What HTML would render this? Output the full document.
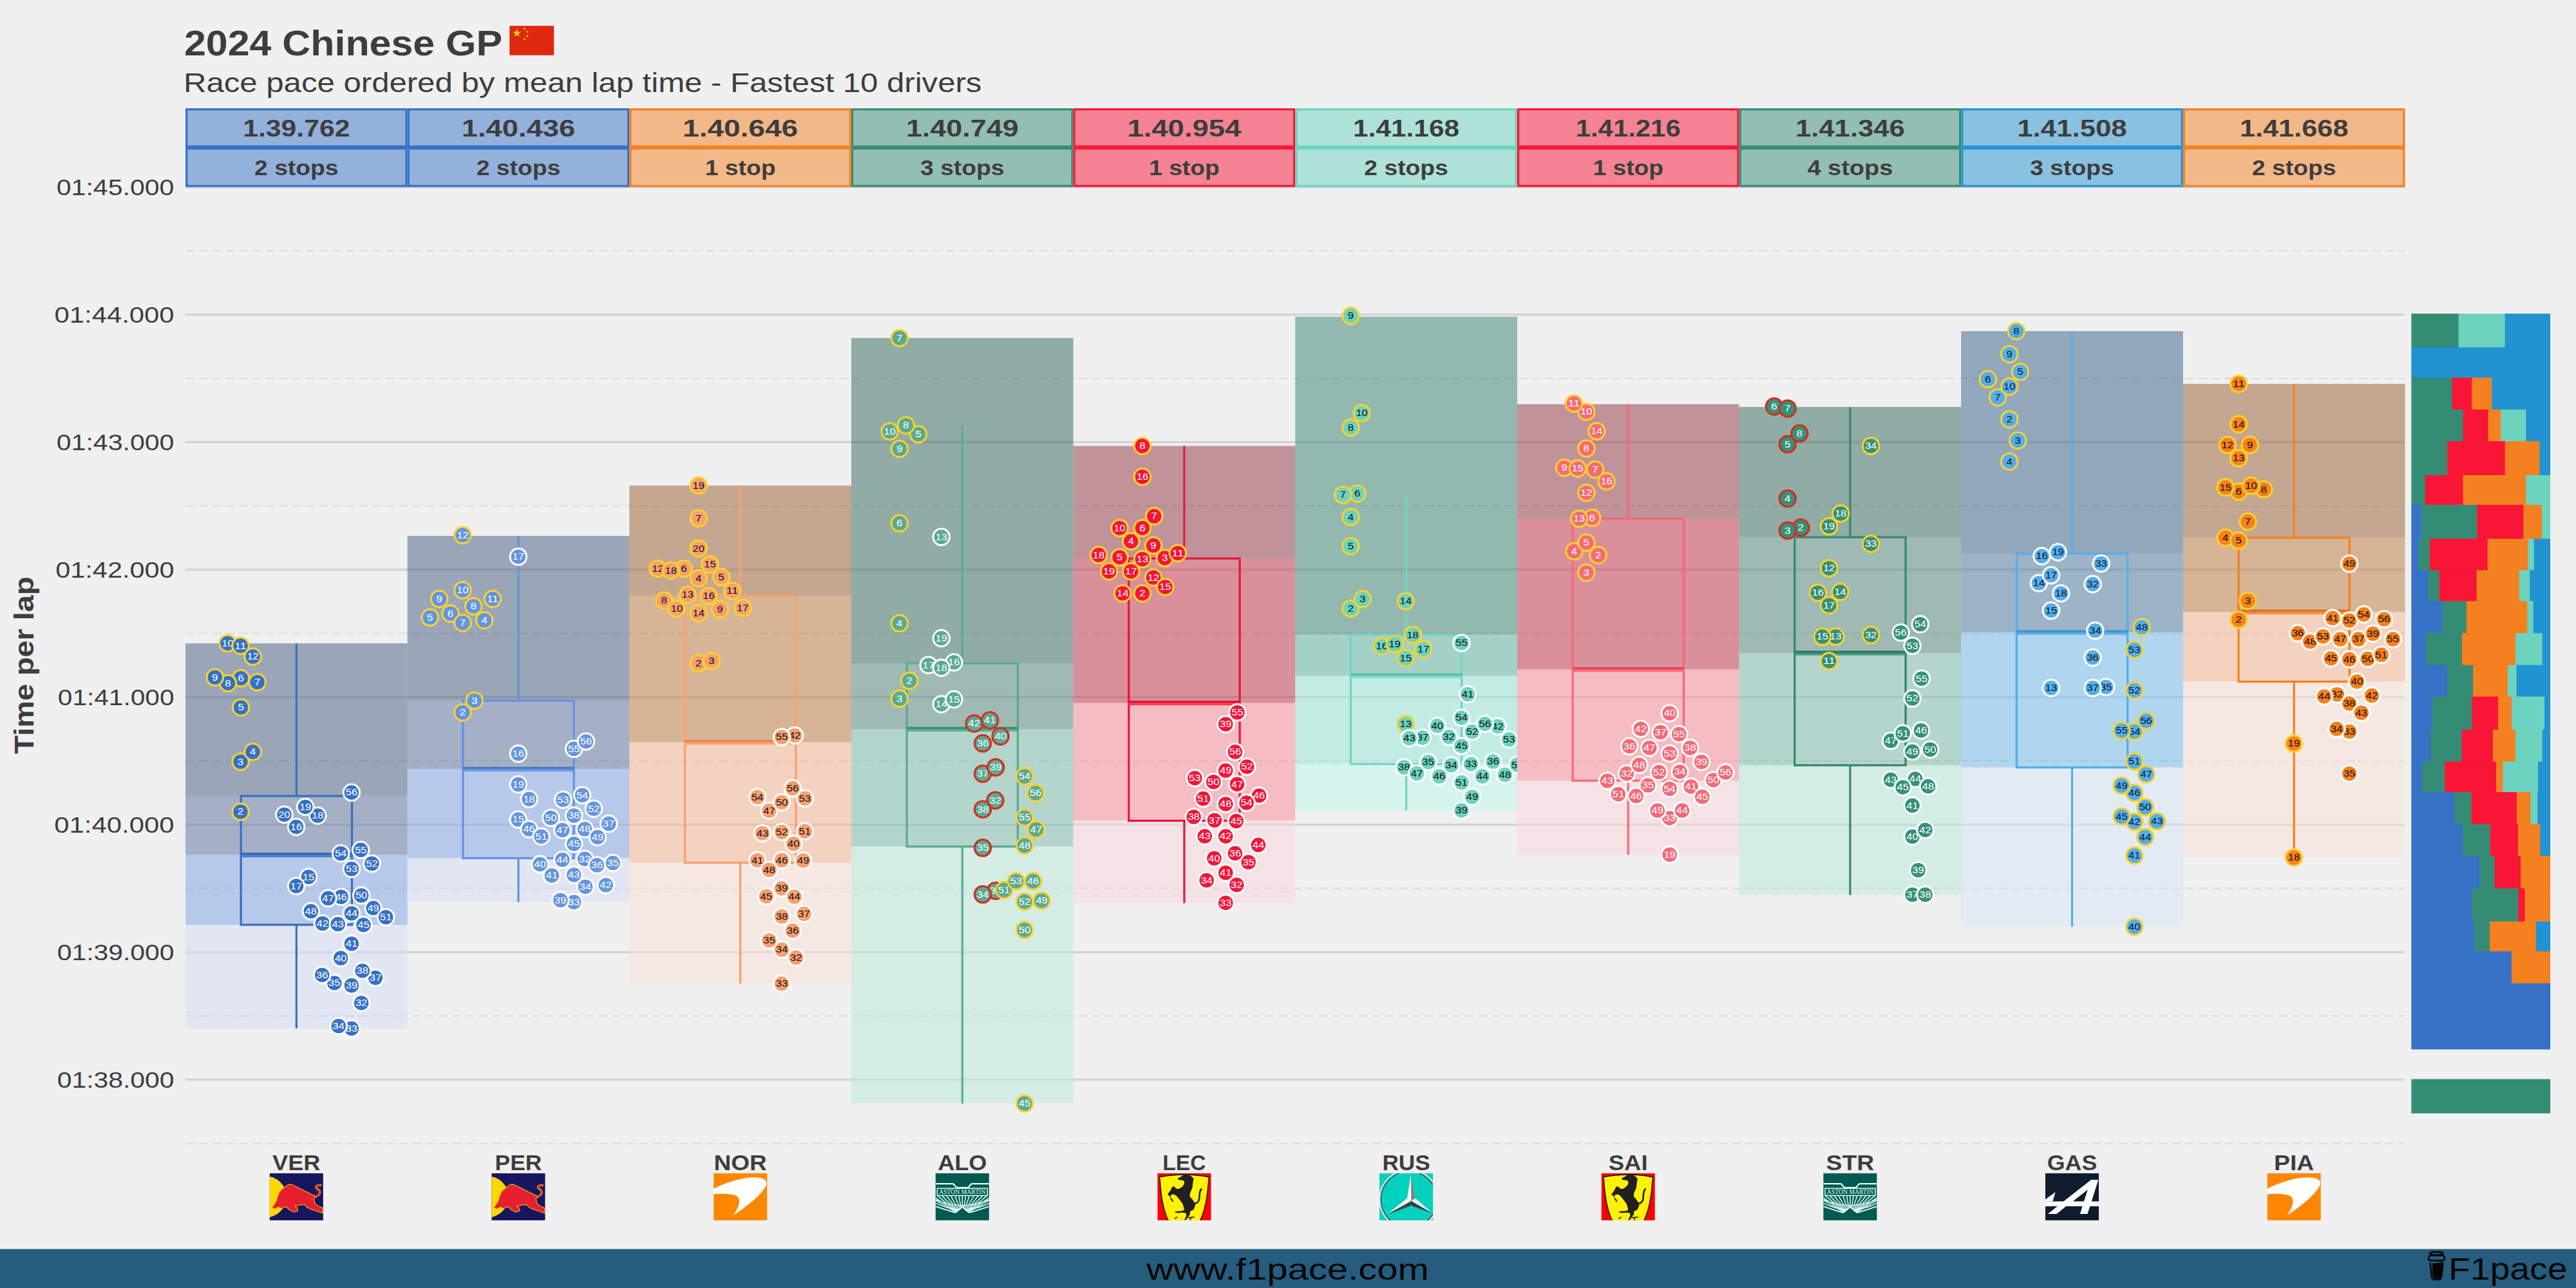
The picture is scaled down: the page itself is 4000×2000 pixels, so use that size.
<!DOCTYPE html><html><head><meta charset="utf-8"><style>html,body{margin:0;padding:0;background:#f0f0f0;}svg{display:block;font-family:"Liberation Sans", sans-serif;}</style></head><body>
<svg width="4000" height="2000" viewBox="0 0 4000 2000">
<rect width="4000" height="2000" fill="#f0f0f0"/>
<text x="286.0" y="86.0" font-size="56" font-weight="bold" text-anchor="start" fill="#3d3d3d" textLength="494" lengthAdjust="spacingAndGlyphs" >2024 Chinese GP</text>
<g transform="translate(791.2,40.1)"><rect width="69" height="45.7" fill="#de2910"/>
<polygon points="11.40,4.60 12.93,9.30 17.87,9.30 13.87,12.20 15.40,16.90 11.40,14.00 7.40,16.90 8.93,12.20 4.93,9.30 9.87,9.30" fill="#ffde00"/>
<polygon points="23.89,2.44 23.83,4.11 25.40,4.68 23.79,5.14 23.73,6.81 22.80,5.43 21.19,5.89 22.22,4.57 21.29,3.18 22.86,3.76" fill="#ffde00"/>
<polygon points="28.39,7.04 28.33,8.71 29.90,9.28 28.29,9.74 28.23,11.41 27.30,10.03 25.69,10.49 26.72,9.17 25.79,7.78 27.36,8.36" fill="#ffde00"/>
<polygon points="28.39,13.84 28.33,15.51 29.90,16.08 28.29,16.54 28.23,18.21 27.30,16.83 25.69,17.29 26.72,15.97 25.79,14.58 27.36,15.16" fill="#ffde00"/>
<polygon points="23.89,18.34 23.83,20.01 25.40,20.58 23.79,21.04 23.73,22.71 22.80,21.33 21.19,21.79 22.22,20.47 21.29,19.08 22.86,19.66" fill="#ffde00"/>
</g>
<text x="285.0" y="143.2" font-size="43" font-weight="normal" text-anchor="start" fill="#3d3d3d" textLength="1239.4" lengthAdjust="spacingAndGlyphs" >Race pace ordered by mean lap time - Fastest 10 drivers</text>
<line x1="288" x2="3734" y1="290.50" y2="290.50" stroke="#d3d3d3" stroke-width="3.5"/>
<line x1="288" x2="3734" y1="488.50" y2="488.50" stroke="#d3d3d3" stroke-width="3.5"/>
<line x1="288" x2="3734" y1="686.50" y2="686.50" stroke="#d3d3d3" stroke-width="3.5"/>
<line x1="288" x2="3734" y1="884.50" y2="884.50" stroke="#d3d3d3" stroke-width="3.5"/>
<line x1="288" x2="3734" y1="1082.50" y2="1082.50" stroke="#d3d3d3" stroke-width="3.5"/>
<line x1="288" x2="3734" y1="1280.50" y2="1280.50" stroke="#d3d3d3" stroke-width="3.5"/>
<line x1="288" x2="3734" y1="1478.50" y2="1478.50" stroke="#d3d3d3" stroke-width="3.5"/>
<line x1="288" x2="3734" y1="1676.50" y2="1676.50" stroke="#d3d3d3" stroke-width="3.5"/>
<line x1="288" x2="3734" y1="389.50" y2="389.50" stroke="#d9d9d9" stroke-width="1.8" stroke-dasharray="14.4 6.3"/>
<line x1="288" x2="3734" y1="587.50" y2="587.50" stroke="#d9d9d9" stroke-width="1.8" stroke-dasharray="14.4 6.3"/>
<line x1="288" x2="3734" y1="785.50" y2="785.50" stroke="#d9d9d9" stroke-width="1.8" stroke-dasharray="14.4 6.3"/>
<line x1="288" x2="3734" y1="983.50" y2="983.50" stroke="#d9d9d9" stroke-width="1.8" stroke-dasharray="14.4 6.3"/>
<line x1="288" x2="3734" y1="1181.50" y2="1181.50" stroke="#d9d9d9" stroke-width="1.8" stroke-dasharray="14.4 6.3"/>
<line x1="288" x2="3734" y1="1379.50" y2="1379.50" stroke="#d9d9d9" stroke-width="1.8" stroke-dasharray="14.4 6.3"/>
<line x1="288" x2="3734" y1="1577.50" y2="1577.50" stroke="#d9d9d9" stroke-width="1.8" stroke-dasharray="14.4 6.3"/>
<line x1="288" x2="3734" y1="1775.50" y2="1775.50" stroke="#d9d9d9" stroke-width="1.8" stroke-dasharray="14.4 6.3"/>
<rect x="288.00" y="999.00" width="344.65" height="237.00" fill="#445c80" fill-opacity="0.5"/>
<rect x="288.00" y="1236.00" width="344.65" height="91.60" fill="#5a709e" fill-opacity="0.5"/>
<rect x="288.00" y="1327.60" width="344.65" height="108.40" fill="#7ea2e6" fill-opacity="0.5"/>
<rect x="288.00" y="1436.00" width="344.65" height="161.00" fill="#d4dcf8" fill-opacity="0.5"/>
<rect x="632.65" y="832.10" width="344.65" height="255.80" fill="#445c80" fill-opacity="0.5"/>
<rect x="632.65" y="1087.90" width="344.65" height="106.30" fill="#5a709e" fill-opacity="0.5"/>
<rect x="632.65" y="1194.20" width="344.65" height="138.40" fill="#7ea2e6" fill-opacity="0.5"/>
<rect x="632.65" y="1332.60" width="344.65" height="68.10" fill="#d4dcf8" fill-opacity="0.5"/>
<rect x="977.30" y="753.90" width="344.65" height="170.90" fill="#985e30" fill-opacity="0.5"/>
<rect x="977.30" y="924.80" width="344.65" height="227.80" fill="#bc783c" fill-opacity="0.5"/>
<rect x="977.30" y="1152.60" width="344.65" height="187.00" fill="#f6b490" fill-opacity="0.5"/>
<rect x="977.30" y="1339.60" width="344.65" height="187.90" fill="#fae0d4" fill-opacity="0.5"/>
<rect x="1321.95" y="524.90" width="344.65" height="505.20" fill="#326858" fill-opacity="0.5"/>
<rect x="1321.95" y="1030.10" width="344.65" height="102.10" fill="#4e8474" fill-opacity="0.5"/>
<rect x="1321.95" y="1132.20" width="344.65" height="182.30" fill="#78baa6" fill-opacity="0.5"/>
<rect x="1321.95" y="1314.50" width="344.65" height="398.90" fill="#b6e8d8" fill-opacity="0.5"/>
<rect x="1666.60" y="692.50" width="344.65" height="174.70" fill="#903444" fill-opacity="0.5"/>
<rect x="1666.60" y="867.20" width="344.65" height="224.40" fill="#c23046" fill-opacity="0.5"/>
<rect x="1666.60" y="1091.60" width="344.65" height="182.80" fill="#fa8898" fill-opacity="0.5"/>
<rect x="1666.60" y="1274.40" width="344.65" height="128.00" fill="#fad4da" fill-opacity="0.5"/>
<rect x="2011.25" y="491.90" width="344.65" height="493.80" fill="#368070" fill-opacity="0.5"/>
<rect x="2011.25" y="985.70" width="344.65" height="63.50" fill="#56b2a0" fill-opacity="0.5"/>
<rect x="2011.25" y="1049.20" width="344.65" height="137.20" fill="#92e6d6" fill-opacity="0.5"/>
<rect x="2011.25" y="1186.40" width="344.65" height="72.00" fill="#bcf8ec" fill-opacity="0.5"/>
<rect x="2355.90" y="627.70" width="344.65" height="177.70" fill="#903444" fill-opacity="0.5"/>
<rect x="2355.90" y="805.40" width="344.65" height="234.30" fill="#c23046" fill-opacity="0.5"/>
<rect x="2355.90" y="1039.70" width="344.65" height="172.50" fill="#fa8898" fill-opacity="0.5"/>
<rect x="2355.90" y="1212.20" width="344.65" height="115.10" fill="#fad4da" fill-opacity="0.5"/>
<rect x="2700.55" y="631.90" width="344.65" height="202.30" fill="#326858" fill-opacity="0.5"/>
<rect x="2700.55" y="834.20" width="344.65" height="179.80" fill="#4e8474" fill-opacity="0.5"/>
<rect x="2700.55" y="1014.00" width="344.65" height="174.30" fill="#78baa6" fill-opacity="0.5"/>
<rect x="2700.55" y="1188.30" width="344.65" height="201.50" fill="#b6e8d8" fill-opacity="0.5"/>
<rect x="3045.20" y="514.20" width="344.65" height="345.60" fill="#366084" fill-opacity="0.5"/>
<rect x="3045.20" y="859.80" width="344.65" height="122.10" fill="#4a78a0" fill-opacity="0.5"/>
<rect x="3045.20" y="981.90" width="344.65" height="209.70" fill="#70baee" fill-opacity="0.5"/>
<rect x="3045.20" y="1191.60" width="344.65" height="247.40" fill="#d4e6f8" fill-opacity="0.5"/>
<rect x="3389.85" y="596.00" width="344.65" height="239.00" fill="#985e30" fill-opacity="0.5"/>
<rect x="3389.85" y="835.00" width="344.65" height="115.20" fill="#bc783c" fill-opacity="0.5"/>
<rect x="3389.85" y="950.20" width="344.65" height="108.20" fill="#f6b490" fill-opacity="0.5"/>
<rect x="3389.85" y="1058.40" width="344.65" height="273.20" fill="#fae0d4" fill-opacity="0.5"/>
<line x1="460.32" x2="460.32" y1="999.00" y2="1236.00" stroke="#3a70c0" stroke-width="3.2"/>
<line x1="460.32" x2="460.32" y1="1436.00" y2="1597.00" stroke="#3a70c0" stroke-width="3.2"/>
<rect x="374.16" y="1236.00" width="172.32" height="200.00" fill="none" stroke="#3a70c0" stroke-width="3.3"/>
<rect x="374.16" y="1324.10" width="172.32" height="3.5" fill="#3464ac"/>
<rect x="374.16" y="1327.60" width="172.32" height="3.6" fill="#467dd0"/>
<line x1="804.97" x2="804.97" y1="832.10" y2="1087.90" stroke="#6592e0" stroke-width="3.2"/>
<line x1="804.97" x2="804.97" y1="1332.60" y2="1400.70" stroke="#6592e0" stroke-width="3.2"/>
<rect x="718.81" y="1087.90" width="172.32" height="244.70" fill="none" stroke="#6592e0" stroke-width="3.3"/>
<rect x="718.81" y="1190.70" width="172.32" height="3.5" fill="#4f78bc"/>
<rect x="718.81" y="1194.20" width="172.32" height="3.6" fill="#6492e6"/>
<line x1="1149.62" x2="1149.62" y1="753.90" y2="924.80" stroke="#f9a06a" stroke-width="3.2"/>
<line x1="1149.62" x2="1149.62" y1="1339.60" y2="1527.50" stroke="#f9a06a" stroke-width="3.2"/>
<rect x="1063.46" y="924.80" width="172.33" height="414.80" fill="none" stroke="#f9a06a" stroke-width="3.3"/>
<rect x="1063.46" y="1149.10" width="172.33" height="3.5" fill="#e08449"/>
<rect x="1063.46" y="1152.60" width="172.33" height="3.6" fill="#ffa06a"/>
<line x1="1494.27" x2="1494.27" y1="661.00" y2="1030.10" stroke="#5aaa94" stroke-width="3.2"/>
<line x1="1494.27" x2="1494.27" y1="1314.50" y2="1713.40" stroke="#5aaa94" stroke-width="3.2"/>
<rect x="1408.11" y="1030.10" width="172.33" height="284.40" fill="none" stroke="#5aaa94" stroke-width="3.3"/>
<rect x="1408.11" y="1128.70" width="172.33" height="3.5" fill="#3f8a74"/>
<rect x="1408.11" y="1132.20" width="172.33" height="3.6" fill="#5aaa94"/>
<line x1="1838.92" x2="1838.92" y1="692.50" y2="867.20" stroke="#e8173a" stroke-width="3.2"/>
<line x1="1838.92" x2="1838.92" y1="1274.40" y2="1402.40" stroke="#e8173a" stroke-width="3.2"/>
<rect x="1752.76" y="867.20" width="172.33" height="407.20" fill="none" stroke="#e8173a" stroke-width="3.3"/>
<rect x="1752.76" y="1088.10" width="172.33" height="3.5" fill="#dc0f2e"/>
<rect x="1752.76" y="1091.60" width="172.33" height="3.6" fill="#ff3850"/>
<line x1="2183.57" x2="2183.57" y1="768.40" y2="985.70" stroke="#74d4c3" stroke-width="3.2"/>
<line x1="2183.57" x2="2183.57" y1="1186.40" y2="1258.40" stroke="#74d4c3" stroke-width="3.2"/>
<rect x="2097.41" y="985.70" width="172.33" height="200.70" fill="none" stroke="#74d4c3" stroke-width="3.3"/>
<rect x="2097.41" y="1045.70" width="172.33" height="3.5" fill="#52bea8"/>
<rect x="2097.41" y="1049.20" width="172.33" height="3.6" fill="#74dac6"/>
<line x1="2528.22" x2="2528.22" y1="627.70" y2="805.40" stroke="#f56a78" stroke-width="3.2"/>
<line x1="2528.22" x2="2528.22" y1="1212.20" y2="1327.30" stroke="#f56a78" stroke-width="3.2"/>
<rect x="2442.06" y="805.40" width="172.33" height="406.80" fill="none" stroke="#f56a78" stroke-width="3.3"/>
<rect x="2442.06" y="1036.20" width="172.33" height="3.5" fill="#e34055"/>
<rect x="2442.06" y="1039.70" width="172.33" height="3.6" fill="#ff6b7a"/>
<line x1="2872.87" x2="2872.87" y1="631.90" y2="834.20" stroke="#34896f" stroke-width="3.2"/>
<line x1="2872.87" x2="2872.87" y1="1188.30" y2="1389.80" stroke="#34896f" stroke-width="3.2"/>
<rect x="2786.71" y="834.20" width="172.32" height="354.10" fill="none" stroke="#34896f" stroke-width="3.3"/>
<rect x="2786.71" y="1010.50" width="172.32" height="3.5" fill="#2d7a64"/>
<rect x="2786.71" y="1014.00" width="172.32" height="3.6" fill="#45997f"/>
<line x1="3217.52" x2="3217.52" y1="514.20" y2="859.80" stroke="#55aeea" stroke-width="3.2"/>
<line x1="3217.52" x2="3217.52" y1="1191.60" y2="1439.00" stroke="#55aeea" stroke-width="3.2"/>
<rect x="3131.36" y="859.80" width="172.33" height="331.80" fill="none" stroke="#55aeea" stroke-width="3.3"/>
<rect x="3131.36" y="978.40" width="172.33" height="3.5" fill="#4393c8"/>
<rect x="3131.36" y="981.90" width="172.33" height="3.6" fill="#55aeea"/>
<line x1="3562.17" x2="3562.17" y1="596.00" y2="835.00" stroke="#f58020" stroke-width="3.2"/>
<line x1="3562.17" x2="3562.17" y1="1058.40" y2="1331.60" stroke="#f58020" stroke-width="3.2"/>
<rect x="3476.01" y="835.00" width="172.32" height="223.40" fill="none" stroke="#f58020" stroke-width="3.3"/>
<rect x="3476.01" y="946.70" width="172.32" height="3.5" fill="#d87020"/>
<rect x="3476.01" y="950.20" width="172.32" height="3.6" fill="#fb8a3a"/>
<defs>
<clipPath id="cp0"><rect x="288.00" y="0" width="344.65" height="2000"/></clipPath>
<clipPath id="cp1"><rect x="632.65" y="0" width="344.65" height="2000"/></clipPath>
<clipPath id="cp2"><rect x="977.30" y="0" width="344.65" height="2000"/></clipPath>
<clipPath id="cp3"><rect x="1321.95" y="0" width="344.65" height="2000"/></clipPath>
<clipPath id="cp4"><rect x="1666.60" y="0" width="344.65" height="2000"/></clipPath>
<clipPath id="cp5"><rect x="2011.25" y="0" width="344.65" height="2000"/></clipPath>
<clipPath id="cp6"><rect x="2355.90" y="0" width="344.65" height="2000"/></clipPath>
<clipPath id="cp7"><rect x="2700.55" y="0" width="344.65" height="2000"/></clipPath>
<clipPath id="cp8"><rect x="3045.20" y="0" width="344.65" height="2000"/></clipPath>
<clipPath id="cp9"><rect x="3389.85" y="0" width="344.65" height="2000"/></clipPath>
</defs>
<g clip-path="url(#cp0)">
<circle cx="373.5" cy="1260.5" r="12.75" fill="#3671c6" stroke="#fcd22a" stroke-width="3"/>
<text x="373.5" y="1265.3" font-size="13.8" text-anchor="middle" fill="#ffffff" textLength="9.4" lengthAdjust="spacingAndGlyphs">2</text>
<circle cx="373.5" cy="1182.7" r="12.75" fill="#3671c6" stroke="#fcd22a" stroke-width="3"/>
<text x="373.5" y="1187.5" font-size="13.8" text-anchor="middle" fill="#ffffff" textLength="9.4" lengthAdjust="spacingAndGlyphs">3</text>
<circle cx="392.6" cy="1167.5" r="12.75" fill="#3671c6" stroke="#fcd22a" stroke-width="3"/>
<text x="392.6" y="1172.3" font-size="13.8" text-anchor="middle" fill="#ffffff" textLength="9.4" lengthAdjust="spacingAndGlyphs">4</text>
<circle cx="374.1" cy="1098.5" r="12.75" fill="#3671c6" stroke="#fcd22a" stroke-width="3"/>
<text x="374.1" y="1103.3" font-size="13.8" text-anchor="middle" fill="#ffffff" textLength="9.4" lengthAdjust="spacingAndGlyphs">5</text>
<circle cx="374.1" cy="1053.3" r="12.75" fill="#3671c6" stroke="#fcd22a" stroke-width="3"/>
<text x="374.1" y="1058.1" font-size="13.8" text-anchor="middle" fill="#ffffff" textLength="9.4" lengthAdjust="spacingAndGlyphs">6</text>
<circle cx="399.6" cy="1059.3" r="12.75" fill="#3671c6" stroke="#fcd22a" stroke-width="3"/>
<text x="399.6" y="1064.1" font-size="13.8" text-anchor="middle" fill="#ffffff" textLength="9.4" lengthAdjust="spacingAndGlyphs">7</text>
<circle cx="354.0" cy="1060.9" r="12.75" fill="#3671c6" stroke="#fcd22a" stroke-width="3"/>
<text x="354.0" y="1065.7" font-size="13.8" text-anchor="middle" fill="#ffffff" textLength="9.4" lengthAdjust="spacingAndGlyphs">8</text>
<circle cx="333.8" cy="1051.7" r="12.75" fill="#3671c6" stroke="#fcd22a" stroke-width="3"/>
<text x="333.8" y="1056.5" font-size="13.8" text-anchor="middle" fill="#ffffff" textLength="9.4" lengthAdjust="spacingAndGlyphs">9</text>
<circle cx="353.4" cy="998.9" r="12.75" fill="#3671c6" stroke="#fcd22a" stroke-width="3"/>
<text x="353.4" y="1003.7" font-size="13.8" text-anchor="middle" fill="#ffffff" textLength="18.4" lengthAdjust="spacingAndGlyphs">10</text>
<circle cx="373.5" cy="1002.7" r="12.75" fill="#3671c6" stroke="#fcd22a" stroke-width="3"/>
<text x="373.5" y="1007.5" font-size="13.8" text-anchor="middle" fill="#ffffff" textLength="18.4" lengthAdjust="spacingAndGlyphs">11</text>
<circle cx="392.6" cy="1019.6" r="12.75" fill="#3671c6" stroke="#fcd22a" stroke-width="3"/>
<text x="392.6" y="1024.4" font-size="13.8" text-anchor="middle" fill="#ffffff" textLength="18.4" lengthAdjust="spacingAndGlyphs">12</text>
<circle cx="479.0" cy="1361.7" r="12.75" fill="#3671c6" stroke="#ffffff" stroke-width="3"/>
<text x="479.0" y="1366.5" font-size="13.8" text-anchor="middle" fill="#ffffff" textLength="18.4" lengthAdjust="spacingAndGlyphs">15</text>
<circle cx="460.0" cy="1283.9" r="12.75" fill="#3671c6" stroke="#ffffff" stroke-width="3"/>
<text x="460.0" y="1288.7" font-size="13.8" text-anchor="middle" fill="#ffffff" textLength="18.4" lengthAdjust="spacingAndGlyphs">16</text>
<circle cx="460.0" cy="1375.8" r="12.75" fill="#3671c6" stroke="#ffffff" stroke-width="3"/>
<text x="460.0" y="1380.6" font-size="13.8" text-anchor="middle" fill="#ffffff" textLength="18.4" lengthAdjust="spacingAndGlyphs">17</text>
<circle cx="493.2" cy="1266.5" r="12.75" fill="#3671c6" stroke="#ffffff" stroke-width="3"/>
<text x="493.2" y="1271.3" font-size="13.8" text-anchor="middle" fill="#ffffff" textLength="18.4" lengthAdjust="spacingAndGlyphs">18</text>
<circle cx="474.1" cy="1252.9" r="12.75" fill="#3671c6" stroke="#ffffff" stroke-width="3"/>
<text x="474.1" y="1257.7" font-size="13.8" text-anchor="middle" fill="#ffffff" textLength="18.4" lengthAdjust="spacingAndGlyphs">19</text>
<circle cx="441.5" cy="1264.9" r="12.75" fill="#3671c6" stroke="#ffffff" stroke-width="3"/>
<text x="441.5" y="1269.7" font-size="13.8" text-anchor="middle" fill="#ffffff" textLength="18.4" lengthAdjust="spacingAndGlyphs">20</text>
<circle cx="561.1" cy="1557.4" r="12.75" fill="#3671c6" stroke="#ffffff" stroke-width="3"/>
<text x="561.1" y="1562.2" font-size="13.8" text-anchor="middle" fill="#ffffff" textLength="18.4" lengthAdjust="spacingAndGlyphs">32</text>
<circle cx="545.9" cy="1597.1" r="12.75" fill="#3671c6" stroke="#ffffff" stroke-width="3"/>
<text x="545.9" y="1601.9" font-size="13.8" text-anchor="middle" fill="#ffffff" textLength="18.4" lengthAdjust="spacingAndGlyphs">33</text>
<circle cx="525.8" cy="1593.3" r="12.75" fill="#3671c6" stroke="#ffffff" stroke-width="3"/>
<text x="525.8" y="1598.1" font-size="13.8" text-anchor="middle" fill="#ffffff" textLength="18.4" lengthAdjust="spacingAndGlyphs">34</text>
<circle cx="519.3" cy="1526.4" r="12.75" fill="#3671c6" stroke="#ffffff" stroke-width="3"/>
<text x="519.3" y="1531.2" font-size="13.8" text-anchor="middle" fill="#ffffff" textLength="18.4" lengthAdjust="spacingAndGlyphs">35</text>
<circle cx="500.2" cy="1513.9" r="12.75" fill="#3671c6" stroke="#ffffff" stroke-width="3"/>
<text x="500.2" y="1518.7" font-size="13.8" text-anchor="middle" fill="#ffffff" textLength="18.4" lengthAdjust="spacingAndGlyphs">36</text>
<circle cx="582.9" cy="1518.3" r="12.75" fill="#3671c6" stroke="#ffffff" stroke-width="3"/>
<text x="582.9" y="1523.1" font-size="13.8" text-anchor="middle" fill="#ffffff" textLength="18.4" lengthAdjust="spacingAndGlyphs">37</text>
<circle cx="562.8" cy="1507.4" r="12.75" fill="#3671c6" stroke="#ffffff" stroke-width="3"/>
<text x="562.8" y="1512.2" font-size="13.8" text-anchor="middle" fill="#ffffff" textLength="18.4" lengthAdjust="spacingAndGlyphs">38</text>
<circle cx="545.9" cy="1530.2" r="12.75" fill="#3671c6" stroke="#ffffff" stroke-width="3"/>
<text x="545.9" y="1535.0" font-size="13.8" text-anchor="middle" fill="#ffffff" textLength="18.4" lengthAdjust="spacingAndGlyphs">39</text>
<circle cx="529.1" cy="1487.8" r="12.75" fill="#3671c6" stroke="#ffffff" stroke-width="3"/>
<text x="529.1" y="1492.6" font-size="13.8" text-anchor="middle" fill="#ffffff" textLength="18.4" lengthAdjust="spacingAndGlyphs">40</text>
<circle cx="545.9" cy="1465.5" r="12.75" fill="#3671c6" stroke="#ffffff" stroke-width="3"/>
<text x="545.9" y="1470.3" font-size="13.8" text-anchor="middle" fill="#ffffff" textLength="18.4" lengthAdjust="spacingAndGlyphs">41</text>
<circle cx="500.8" cy="1434.0" r="12.75" fill="#3671c6" stroke="#ffffff" stroke-width="3"/>
<text x="500.8" y="1438.8" font-size="13.8" text-anchor="middle" fill="#ffffff" textLength="18.4" lengthAdjust="spacingAndGlyphs">42</text>
<circle cx="524.7" cy="1435.1" r="12.75" fill="#3671c6" stroke="#ffffff" stroke-width="3"/>
<text x="524.7" y="1439.9" font-size="13.8" text-anchor="middle" fill="#ffffff" textLength="18.4" lengthAdjust="spacingAndGlyphs">43</text>
<circle cx="545.9" cy="1418.2" r="12.75" fill="#3671c6" stroke="#ffffff" stroke-width="3"/>
<text x="545.9" y="1423.0" font-size="13.8" text-anchor="middle" fill="#ffffff" textLength="18.4" lengthAdjust="spacingAndGlyphs">44</text>
<circle cx="564.4" cy="1436.2" r="12.75" fill="#3671c6" stroke="#ffffff" stroke-width="3"/>
<text x="564.4" y="1441.0" font-size="13.8" text-anchor="middle" fill="#ffffff" textLength="18.4" lengthAdjust="spacingAndGlyphs">45</text>
<circle cx="529.6" cy="1392.7" r="12.75" fill="#3671c6" stroke="#ffffff" stroke-width="3"/>
<text x="529.6" y="1397.5" font-size="13.8" text-anchor="middle" fill="#ffffff" textLength="18.4" lengthAdjust="spacingAndGlyphs">46</text>
<circle cx="509.5" cy="1394.8" r="12.75" fill="#3671c6" stroke="#ffffff" stroke-width="3"/>
<text x="509.5" y="1399.6" font-size="13.8" text-anchor="middle" fill="#ffffff" textLength="18.4" lengthAdjust="spacingAndGlyphs">47</text>
<circle cx="482.8" cy="1415.0" r="12.75" fill="#3671c6" stroke="#ffffff" stroke-width="3"/>
<text x="482.8" y="1419.8" font-size="13.8" text-anchor="middle" fill="#ffffff" textLength="18.4" lengthAdjust="spacingAndGlyphs">48</text>
<circle cx="579.6" cy="1410.1" r="12.75" fill="#3671c6" stroke="#ffffff" stroke-width="3"/>
<text x="579.6" y="1414.9" font-size="13.8" text-anchor="middle" fill="#ffffff" textLength="18.4" lengthAdjust="spacingAndGlyphs">49</text>
<circle cx="561.1" cy="1390.5" r="12.75" fill="#3671c6" stroke="#ffffff" stroke-width="3"/>
<text x="561.1" y="1395.3" font-size="13.8" text-anchor="middle" fill="#ffffff" textLength="18.4" lengthAdjust="spacingAndGlyphs">50</text>
<circle cx="599.2" cy="1424.2" r="12.75" fill="#3671c6" stroke="#ffffff" stroke-width="3"/>
<text x="599.2" y="1429.0" font-size="13.8" text-anchor="middle" fill="#ffffff" textLength="18.4" lengthAdjust="spacingAndGlyphs">51</text>
<circle cx="577.5" cy="1341.0" r="12.75" fill="#3671c6" stroke="#ffffff" stroke-width="3"/>
<text x="577.5" y="1345.8" font-size="13.8" text-anchor="middle" fill="#ffffff" textLength="18.4" lengthAdjust="spacingAndGlyphs">52</text>
<circle cx="545.9" cy="1349.2" r="12.75" fill="#3671c6" stroke="#ffffff" stroke-width="3"/>
<text x="545.9" y="1354.0" font-size="13.8" text-anchor="middle" fill="#ffffff" textLength="18.4" lengthAdjust="spacingAndGlyphs">53</text>
<circle cx="529.1" cy="1325.2" r="12.75" fill="#3671c6" stroke="#ffffff" stroke-width="3"/>
<text x="529.1" y="1330.0" font-size="13.8" text-anchor="middle" fill="#ffffff" textLength="18.4" lengthAdjust="spacingAndGlyphs">54</text>
<circle cx="560.1" cy="1319.8" r="12.75" fill="#3671c6" stroke="#ffffff" stroke-width="3"/>
<text x="560.1" y="1324.6" font-size="13.8" text-anchor="middle" fill="#ffffff" textLength="18.4" lengthAdjust="spacingAndGlyphs">55</text>
<circle cx="545.9" cy="1230.6" r="12.75" fill="#3671c6" stroke="#ffffff" stroke-width="3"/>
<text x="545.9" y="1235.4" font-size="13.8" text-anchor="middle" fill="#ffffff" textLength="18.4" lengthAdjust="spacingAndGlyphs">56</text>
</g>
<g clip-path="url(#cp1)">
<circle cx="718.4" cy="1106.2" r="12.75" fill="#6495e0" stroke="#fcd22a" stroke-width="3"/>
<text x="718.4" y="1111.0" font-size="13.8" text-anchor="middle" fill="#ffffff" textLength="9.4" lengthAdjust="spacingAndGlyphs">2</text>
<circle cx="736.7" cy="1087.9" r="12.75" fill="#6495e0" stroke="#fcd22a" stroke-width="3"/>
<text x="736.7" y="1092.7" font-size="13.8" text-anchor="middle" fill="#ffffff" textLength="9.4" lengthAdjust="spacingAndGlyphs">3</text>
<circle cx="752.1" cy="963.2" r="12.75" fill="#6495e0" stroke="#fcd22a" stroke-width="3"/>
<text x="752.1" y="968.0" font-size="13.8" text-anchor="middle" fill="#ffffff" textLength="9.4" lengthAdjust="spacingAndGlyphs">4</text>
<circle cx="667.7" cy="958.8" r="12.75" fill="#6495e0" stroke="#fcd22a" stroke-width="3"/>
<text x="667.7" y="963.6" font-size="13.8" text-anchor="middle" fill="#ffffff" textLength="9.4" lengthAdjust="spacingAndGlyphs">5</text>
<circle cx="699.5" cy="952.8" r="12.75" fill="#6495e0" stroke="#fcd22a" stroke-width="3"/>
<text x="699.5" y="957.6" font-size="13.8" text-anchor="middle" fill="#ffffff" textLength="9.4" lengthAdjust="spacingAndGlyphs">6</text>
<circle cx="718.4" cy="967.2" r="12.75" fill="#6495e0" stroke="#fcd22a" stroke-width="3"/>
<text x="718.4" y="972.0" font-size="13.8" text-anchor="middle" fill="#ffffff" textLength="9.4" lengthAdjust="spacingAndGlyphs">7</text>
<circle cx="735.2" cy="941.4" r="12.75" fill="#6495e0" stroke="#fcd22a" stroke-width="3"/>
<text x="735.2" y="946.2" font-size="13.8" text-anchor="middle" fill="#ffffff" textLength="9.4" lengthAdjust="spacingAndGlyphs">8</text>
<circle cx="682.1" cy="930.0" r="12.75" fill="#6495e0" stroke="#fcd22a" stroke-width="3"/>
<text x="682.1" y="934.8" font-size="13.8" text-anchor="middle" fill="#ffffff" textLength="9.4" lengthAdjust="spacingAndGlyphs">9</text>
<circle cx="718.4" cy="916.6" r="12.75" fill="#6495e0" stroke="#fcd22a" stroke-width="3"/>
<text x="718.4" y="921.4" font-size="13.8" text-anchor="middle" fill="#ffffff" textLength="18.4" lengthAdjust="spacingAndGlyphs">10</text>
<circle cx="765.0" cy="930.0" r="12.75" fill="#6495e0" stroke="#fcd22a" stroke-width="3"/>
<text x="765.0" y="934.8" font-size="13.8" text-anchor="middle" fill="#ffffff" textLength="18.4" lengthAdjust="spacingAndGlyphs">11</text>
<circle cx="718.4" cy="831.1" r="12.75" fill="#6495e0" stroke="#fcd22a" stroke-width="3"/>
<text x="718.4" y="835.9" font-size="13.8" text-anchor="middle" fill="#ffffff" textLength="18.4" lengthAdjust="spacingAndGlyphs">12</text>
<circle cx="804.8" cy="1272.6" r="12.75" fill="#6495e0" stroke="#ffffff" stroke-width="3"/>
<text x="804.8" y="1277.4" font-size="13.8" text-anchor="middle" fill="#ffffff" textLength="18.4" lengthAdjust="spacingAndGlyphs">15</text>
<circle cx="804.8" cy="1170.3" r="12.75" fill="#6495e0" stroke="#ffffff" stroke-width="3"/>
<text x="804.8" y="1175.1" font-size="13.8" text-anchor="middle" fill="#ffffff" textLength="18.4" lengthAdjust="spacingAndGlyphs">16</text>
<circle cx="804.8" cy="864.4" r="12.75" fill="#6495e0" stroke="#ffffff" stroke-width="3"/>
<text x="804.8" y="869.2" font-size="13.8" text-anchor="middle" fill="#ffffff" textLength="18.4" lengthAdjust="spacingAndGlyphs">17</text>
<circle cx="821.6" cy="1240.8" r="12.75" fill="#6495e0" stroke="#ffffff" stroke-width="3"/>
<text x="821.6" y="1245.6" font-size="13.8" text-anchor="middle" fill="#ffffff" textLength="18.4" lengthAdjust="spacingAndGlyphs">18</text>
<circle cx="804.8" cy="1218.0" r="12.75" fill="#6495e0" stroke="#ffffff" stroke-width="3"/>
<text x="804.8" y="1222.8" font-size="13.8" text-anchor="middle" fill="#ffffff" textLength="18.4" lengthAdjust="spacingAndGlyphs">19</text>
<circle cx="908.0" cy="1333.7" r="12.75" fill="#6495e0" stroke="#ffffff" stroke-width="3"/>
<text x="908.0" y="1338.5" font-size="13.8" text-anchor="middle" fill="#ffffff" textLength="18.4" lengthAdjust="spacingAndGlyphs">32</text>
<circle cx="891.2" cy="1400.7" r="12.75" fill="#6495e0" stroke="#ffffff" stroke-width="3"/>
<text x="891.2" y="1405.5" font-size="13.8" text-anchor="middle" fill="#ffffff" textLength="18.4" lengthAdjust="spacingAndGlyphs">33</text>
<circle cx="909.0" cy="1376.9" r="12.75" fill="#6495e0" stroke="#ffffff" stroke-width="3"/>
<text x="909.0" y="1381.7" font-size="13.8" text-anchor="middle" fill="#ffffff" textLength="18.4" lengthAdjust="spacingAndGlyphs">34</text>
<circle cx="951.7" cy="1340.1" r="12.75" fill="#6495e0" stroke="#ffffff" stroke-width="3"/>
<text x="951.7" y="1344.9" font-size="13.8" text-anchor="middle" fill="#ffffff" textLength="18.4" lengthAdjust="spacingAndGlyphs">35</text>
<circle cx="926.9" cy="1343.6" r="12.75" fill="#6495e0" stroke="#ffffff" stroke-width="3"/>
<text x="926.9" y="1348.4" font-size="13.8" text-anchor="middle" fill="#ffffff" textLength="18.4" lengthAdjust="spacingAndGlyphs">36</text>
<circle cx="945.3" cy="1279.0" r="12.75" fill="#6495e0" stroke="#ffffff" stroke-width="3"/>
<text x="945.3" y="1283.8" font-size="13.8" text-anchor="middle" fill="#ffffff" textLength="18.4" lengthAdjust="spacingAndGlyphs">37</text>
<circle cx="891.2" cy="1266.6" r="12.75" fill="#6495e0" stroke="#ffffff" stroke-width="3"/>
<text x="891.2" y="1271.4" font-size="13.8" text-anchor="middle" fill="#ffffff" textLength="18.4" lengthAdjust="spacingAndGlyphs">38</text>
<circle cx="870.3" cy="1397.7" r="12.75" fill="#6495e0" stroke="#ffffff" stroke-width="3"/>
<text x="870.3" y="1402.5" font-size="13.8" text-anchor="middle" fill="#ffffff" textLength="18.4" lengthAdjust="spacingAndGlyphs">39</text>
<circle cx="838.5" cy="1342.1" r="12.75" fill="#6495e0" stroke="#ffffff" stroke-width="3"/>
<text x="838.5" y="1346.9" font-size="13.8" text-anchor="middle" fill="#ffffff" textLength="18.4" lengthAdjust="spacingAndGlyphs">40</text>
<circle cx="856.9" cy="1359.5" r="12.75" fill="#6495e0" stroke="#ffffff" stroke-width="3"/>
<text x="856.9" y="1364.3" font-size="13.8" text-anchor="middle" fill="#ffffff" textLength="18.4" lengthAdjust="spacingAndGlyphs">41</text>
<circle cx="940.8" cy="1374.4" r="12.75" fill="#6495e0" stroke="#ffffff" stroke-width="3"/>
<text x="940.8" y="1379.2" font-size="13.8" text-anchor="middle" fill="#ffffff" textLength="18.4" lengthAdjust="spacingAndGlyphs">42</text>
<circle cx="891.2" cy="1358.5" r="12.75" fill="#6495e0" stroke="#ffffff" stroke-width="3"/>
<text x="891.2" y="1363.3" font-size="13.8" text-anchor="middle" fill="#ffffff" textLength="18.4" lengthAdjust="spacingAndGlyphs">43</text>
<circle cx="873.3" cy="1335.1" r="12.75" fill="#6495e0" stroke="#ffffff" stroke-width="3"/>
<text x="873.3" y="1339.9" font-size="13.8" text-anchor="middle" fill="#ffffff" textLength="18.4" lengthAdjust="spacingAndGlyphs">44</text>
<circle cx="891.2" cy="1310.3" r="12.75" fill="#6495e0" stroke="#ffffff" stroke-width="3"/>
<text x="891.2" y="1315.1" font-size="13.8" text-anchor="middle" fill="#ffffff" textLength="18.4" lengthAdjust="spacingAndGlyphs">45</text>
<circle cx="821.6" cy="1287.5" r="12.75" fill="#6495e0" stroke="#ffffff" stroke-width="3"/>
<text x="821.6" y="1292.3" font-size="13.8" text-anchor="middle" fill="#ffffff" textLength="18.4" lengthAdjust="spacingAndGlyphs">46</text>
<circle cx="873.3" cy="1289.0" r="12.75" fill="#6495e0" stroke="#ffffff" stroke-width="3"/>
<text x="873.3" y="1293.8" font-size="13.8" text-anchor="middle" fill="#ffffff" textLength="18.4" lengthAdjust="spacingAndGlyphs">47</text>
<circle cx="908.0" cy="1287.5" r="12.75" fill="#6495e0" stroke="#ffffff" stroke-width="3"/>
<text x="908.0" y="1292.3" font-size="13.8" text-anchor="middle" fill="#ffffff" textLength="18.4" lengthAdjust="spacingAndGlyphs">48</text>
<circle cx="927.9" cy="1299.9" r="12.75" fill="#6495e0" stroke="#ffffff" stroke-width="3"/>
<text x="927.9" y="1304.7" font-size="13.8" text-anchor="middle" fill="#ffffff" textLength="18.4" lengthAdjust="spacingAndGlyphs">49</text>
<circle cx="855.4" cy="1270.1" r="12.75" fill="#6495e0" stroke="#ffffff" stroke-width="3"/>
<text x="855.4" y="1274.9" font-size="13.8" text-anchor="middle" fill="#ffffff" textLength="18.4" lengthAdjust="spacingAndGlyphs">50</text>
<circle cx="840.5" cy="1298.9" r="12.75" fill="#6495e0" stroke="#ffffff" stroke-width="3"/>
<text x="840.5" y="1303.7" font-size="13.8" text-anchor="middle" fill="#ffffff" textLength="18.4" lengthAdjust="spacingAndGlyphs">51</text>
<circle cx="921.9" cy="1255.7" r="12.75" fill="#6495e0" stroke="#ffffff" stroke-width="3"/>
<text x="921.9" y="1260.5" font-size="13.8" text-anchor="middle" fill="#ffffff" textLength="18.4" lengthAdjust="spacingAndGlyphs">52</text>
<circle cx="874.3" cy="1241.8" r="12.75" fill="#6495e0" stroke="#ffffff" stroke-width="3"/>
<text x="874.3" y="1246.6" font-size="13.8" text-anchor="middle" fill="#ffffff" textLength="18.4" lengthAdjust="spacingAndGlyphs">53</text>
<circle cx="904.1" cy="1234.8" r="12.75" fill="#6495e0" stroke="#ffffff" stroke-width="3"/>
<text x="904.1" y="1239.6" font-size="13.8" text-anchor="middle" fill="#ffffff" textLength="18.4" lengthAdjust="spacingAndGlyphs">54</text>
<circle cx="891.2" cy="1162.8" r="12.75" fill="#6495e0" stroke="#ffffff" stroke-width="3"/>
<text x="891.2" y="1167.6" font-size="13.8" text-anchor="middle" fill="#ffffff" textLength="18.4" lengthAdjust="spacingAndGlyphs">55</text>
<circle cx="910.0" cy="1151.4" r="12.75" fill="#6495e0" stroke="#ffffff" stroke-width="3"/>
<text x="910.0" y="1156.2" font-size="13.8" text-anchor="middle" fill="#ffffff" textLength="18.4" lengthAdjust="spacingAndGlyphs">56</text>
</g>
<g clip-path="url(#cp2)">
<circle cx="1084.8" cy="1029.8" r="12.75" fill="#f8a070" stroke="#fcd22a" stroke-width="3"/>
<text x="1084.8" y="1034.6" font-size="13.8" text-anchor="middle" fill="#111111" textLength="9.4" lengthAdjust="spacingAndGlyphs">2</text>
<circle cx="1105.0" cy="1026.5" r="12.75" fill="#f8a070" stroke="#fcd22a" stroke-width="3"/>
<text x="1105.0" y="1031.3" font-size="13.8" text-anchor="middle" fill="#111111" textLength="9.4" lengthAdjust="spacingAndGlyphs">3</text>
<circle cx="1084.8" cy="898.0" r="12.75" fill="#f8a070" stroke="#fcd22a" stroke-width="3"/>
<text x="1084.8" y="902.8" font-size="13.8" text-anchor="middle" fill="#111111" textLength="9.4" lengthAdjust="spacingAndGlyphs">4</text>
<circle cx="1120.0" cy="896.1" r="12.75" fill="#f8a070" stroke="#fcd22a" stroke-width="3"/>
<text x="1120.0" y="900.9" font-size="13.8" text-anchor="middle" fill="#111111" textLength="9.4" lengthAdjust="spacingAndGlyphs">5</text>
<circle cx="1062.0" cy="883.0" r="12.75" fill="#f8a070" stroke="#fcd22a" stroke-width="3"/>
<text x="1062.0" y="887.8" font-size="13.8" text-anchor="middle" fill="#111111" textLength="9.4" lengthAdjust="spacingAndGlyphs">6</text>
<circle cx="1084.8" cy="804.8" r="12.75" fill="#f8a070" stroke="#fcd22a" stroke-width="3"/>
<text x="1084.8" y="809.6" font-size="13.8" text-anchor="middle" fill="#111111" textLength="9.4" lengthAdjust="spacingAndGlyphs">7</text>
<circle cx="1031.3" cy="932.6" r="12.75" fill="#f8a070" stroke="#fcd22a" stroke-width="3"/>
<text x="1031.3" y="937.4" font-size="13.8" text-anchor="middle" fill="#111111" textLength="9.4" lengthAdjust="spacingAndGlyphs">8</text>
<circle cx="1118.0" cy="946.3" r="12.75" fill="#f8a070" stroke="#fcd22a" stroke-width="3"/>
<text x="1118.0" y="951.1" font-size="13.8" text-anchor="middle" fill="#111111" textLength="9.4" lengthAdjust="spacingAndGlyphs">9</text>
<circle cx="1050.9" cy="945.0" r="12.75" fill="#f8a070" stroke="#fcd22a" stroke-width="3"/>
<text x="1050.9" y="949.8" font-size="13.8" text-anchor="middle" fill="#111111" textLength="18.4" lengthAdjust="spacingAndGlyphs">10</text>
<circle cx="1137.0" cy="917.6" r="12.75" fill="#f8a070" stroke="#fcd22a" stroke-width="3"/>
<text x="1137.0" y="922.4" font-size="13.8" text-anchor="middle" fill="#111111" textLength="18.4" lengthAdjust="spacingAndGlyphs">11</text>
<circle cx="1021.5" cy="883.0" r="12.75" fill="#f8a070" stroke="#fcd22a" stroke-width="3"/>
<text x="1021.5" y="887.8" font-size="13.8" text-anchor="middle" fill="#111111" textLength="18.4" lengthAdjust="spacingAndGlyphs">12</text>
<circle cx="1067.8" cy="923.5" r="12.75" fill="#f8a070" stroke="#fcd22a" stroke-width="3"/>
<text x="1067.8" y="928.3" font-size="13.8" text-anchor="middle" fill="#111111" textLength="18.4" lengthAdjust="spacingAndGlyphs">13</text>
<circle cx="1084.8" cy="952.2" r="12.75" fill="#f8a070" stroke="#fcd22a" stroke-width="3"/>
<text x="1084.8" y="957.0" font-size="13.8" text-anchor="middle" fill="#111111" textLength="18.4" lengthAdjust="spacingAndGlyphs">14</text>
<circle cx="1102.4" cy="876.5" r="12.75" fill="#f8a070" stroke="#fcd22a" stroke-width="3"/>
<text x="1102.4" y="881.3" font-size="13.8" text-anchor="middle" fill="#111111" textLength="18.4" lengthAdjust="spacingAndGlyphs">15</text>
<circle cx="1100.4" cy="925.4" r="12.75" fill="#f8a070" stroke="#fcd22a" stroke-width="3"/>
<text x="1100.4" y="930.2" font-size="13.8" text-anchor="middle" fill="#111111" textLength="18.4" lengthAdjust="spacingAndGlyphs">16</text>
<circle cx="1153.3" cy="943.7" r="12.75" fill="#f8a070" stroke="#fcd22a" stroke-width="3"/>
<text x="1153.3" y="948.5" font-size="13.8" text-anchor="middle" fill="#111111" textLength="18.4" lengthAdjust="spacingAndGlyphs">17</text>
<circle cx="1041.7" cy="885.7" r="12.75" fill="#f8a070" stroke="#fcd22a" stroke-width="3"/>
<text x="1041.7" y="890.5" font-size="13.8" text-anchor="middle" fill="#111111" textLength="18.4" lengthAdjust="spacingAndGlyphs">18</text>
<circle cx="1084.8" cy="753.9" r="12.75" fill="#f8a070" stroke="#fcd22a" stroke-width="3"/>
<text x="1084.8" y="758.7" font-size="13.8" text-anchor="middle" fill="#111111" textLength="18.4" lengthAdjust="spacingAndGlyphs">19</text>
<circle cx="1084.8" cy="851.7" r="12.75" fill="#f8a070" stroke="#fcd22a" stroke-width="3"/>
<text x="1084.8" y="856.5" font-size="13.8" text-anchor="middle" fill="#111111" textLength="18.4" lengthAdjust="spacingAndGlyphs">20</text>
<circle cx="1236.1" cy="1487.0" r="12.75" fill="#f8a070" stroke="#ffffff" stroke-width="3"/>
<text x="1236.1" y="1491.8" font-size="13.8" text-anchor="middle" fill="#111111" textLength="18.4" lengthAdjust="spacingAndGlyphs">32</text>
<circle cx="1213.9" cy="1527.4" r="12.75" fill="#f8a070" stroke="#ffffff" stroke-width="3"/>
<text x="1213.9" y="1532.2" font-size="13.8" text-anchor="middle" fill="#111111" textLength="18.4" lengthAdjust="spacingAndGlyphs">33</text>
<circle cx="1213.9" cy="1474.6" r="12.75" fill="#f8a070" stroke="#ffffff" stroke-width="3"/>
<text x="1213.9" y="1479.4" font-size="13.8" text-anchor="middle" fill="#111111" textLength="18.4" lengthAdjust="spacingAndGlyphs">34</text>
<circle cx="1194.4" cy="1460.2" r="12.75" fill="#f8a070" stroke="#ffffff" stroke-width="3"/>
<text x="1194.4" y="1465.0" font-size="13.8" text-anchor="middle" fill="#111111" textLength="18.4" lengthAdjust="spacingAndGlyphs">35</text>
<circle cx="1230.9" cy="1445.2" r="12.75" fill="#f8a070" stroke="#ffffff" stroke-width="3"/>
<text x="1230.9" y="1450.0" font-size="13.8" text-anchor="middle" fill="#111111" textLength="18.4" lengthAdjust="spacingAndGlyphs">36</text>
<circle cx="1248.5" cy="1419.1" r="12.75" fill="#f8a070" stroke="#ffffff" stroke-width="3"/>
<text x="1248.5" y="1423.9" font-size="13.8" text-anchor="middle" fill="#111111" textLength="18.4" lengthAdjust="spacingAndGlyphs">37</text>
<circle cx="1213.9" cy="1423.1" r="12.75" fill="#f8a070" stroke="#ffffff" stroke-width="3"/>
<text x="1213.9" y="1427.9" font-size="13.8" text-anchor="middle" fill="#111111" textLength="18.4" lengthAdjust="spacingAndGlyphs">38</text>
<circle cx="1213.9" cy="1379.4" r="12.75" fill="#f8a070" stroke="#ffffff" stroke-width="3"/>
<text x="1213.9" y="1384.2" font-size="13.8" text-anchor="middle" fill="#111111" textLength="18.4" lengthAdjust="spacingAndGlyphs">39</text>
<circle cx="1232.2" cy="1310.2" r="12.75" fill="#f8a070" stroke="#ffffff" stroke-width="3"/>
<text x="1232.2" y="1315.0" font-size="13.8" text-anchor="middle" fill="#111111" textLength="18.4" lengthAdjust="spacingAndGlyphs">40</text>
<circle cx="1176.1" cy="1335.7" r="12.75" fill="#f8a070" stroke="#ffffff" stroke-width="3"/>
<text x="1176.1" y="1340.5" font-size="13.8" text-anchor="middle" fill="#111111" textLength="18.4" lengthAdjust="spacingAndGlyphs">41</text>
<circle cx="1234.1" cy="1142.0" r="12.75" fill="#f8a070" stroke="#ffffff" stroke-width="3"/>
<text x="1234.1" y="1146.8" font-size="13.8" text-anchor="middle" fill="#111111" textLength="18.4" lengthAdjust="spacingAndGlyphs">42</text>
<circle cx="1183.9" cy="1293.9" r="12.75" fill="#f8a070" stroke="#ffffff" stroke-width="3"/>
<text x="1183.9" y="1298.7" font-size="13.8" text-anchor="middle" fill="#111111" textLength="18.4" lengthAdjust="spacingAndGlyphs">43</text>
<circle cx="1233.5" cy="1392.4" r="12.75" fill="#f8a070" stroke="#ffffff" stroke-width="3"/>
<text x="1233.5" y="1397.2" font-size="13.8" text-anchor="middle" fill="#111111" textLength="18.4" lengthAdjust="spacingAndGlyphs">44</text>
<circle cx="1189.8" cy="1391.8" r="12.75" fill="#f8a070" stroke="#ffffff" stroke-width="3"/>
<text x="1189.8" y="1396.6" font-size="13.8" text-anchor="middle" fill="#111111" textLength="18.4" lengthAdjust="spacingAndGlyphs">45</text>
<circle cx="1213.9" cy="1335.7" r="12.75" fill="#f8a070" stroke="#ffffff" stroke-width="3"/>
<text x="1213.9" y="1340.5" font-size="13.8" text-anchor="middle" fill="#111111" textLength="18.4" lengthAdjust="spacingAndGlyphs">46</text>
<circle cx="1194.4" cy="1258.7" r="12.75" fill="#f8a070" stroke="#ffffff" stroke-width="3"/>
<text x="1194.4" y="1263.5" font-size="13.8" text-anchor="middle" fill="#111111" textLength="18.4" lengthAdjust="spacingAndGlyphs">47</text>
<circle cx="1194.4" cy="1350.7" r="12.75" fill="#f8a070" stroke="#ffffff" stroke-width="3"/>
<text x="1194.4" y="1355.5" font-size="13.8" text-anchor="middle" fill="#111111" textLength="18.4" lengthAdjust="spacingAndGlyphs">48</text>
<circle cx="1247.2" cy="1336.3" r="12.75" fill="#f8a070" stroke="#ffffff" stroke-width="3"/>
<text x="1247.2" y="1341.1" font-size="13.8" text-anchor="middle" fill="#111111" textLength="18.4" lengthAdjust="spacingAndGlyphs">49</text>
<circle cx="1213.9" cy="1245.7" r="12.75" fill="#f8a070" stroke="#ffffff" stroke-width="3"/>
<text x="1213.9" y="1250.5" font-size="13.8" text-anchor="middle" fill="#111111" textLength="18.4" lengthAdjust="spacingAndGlyphs">50</text>
<circle cx="1249.8" cy="1290.7" r="12.75" fill="#f8a070" stroke="#ffffff" stroke-width="3"/>
<text x="1249.8" y="1295.5" font-size="13.8" text-anchor="middle" fill="#111111" textLength="18.4" lengthAdjust="spacingAndGlyphs">51</text>
<circle cx="1213.9" cy="1292.0" r="12.75" fill="#f8a070" stroke="#ffffff" stroke-width="3"/>
<text x="1213.9" y="1296.8" font-size="13.8" text-anchor="middle" fill="#111111" textLength="18.4" lengthAdjust="spacingAndGlyphs">52</text>
<circle cx="1249.8" cy="1239.8" r="12.75" fill="#f8a070" stroke="#ffffff" stroke-width="3"/>
<text x="1249.8" y="1244.6" font-size="13.8" text-anchor="middle" fill="#111111" textLength="18.4" lengthAdjust="spacingAndGlyphs">53</text>
<circle cx="1176.1" cy="1237.8" r="12.75" fill="#f8a070" stroke="#ffffff" stroke-width="3"/>
<text x="1176.1" y="1242.6" font-size="13.8" text-anchor="middle" fill="#111111" textLength="18.4" lengthAdjust="spacingAndGlyphs">54</text>
<circle cx="1213.9" cy="1144.6" r="12.75" fill="#f8a070" stroke="#ffffff" stroke-width="3"/>
<text x="1213.9" y="1149.4" font-size="13.8" text-anchor="middle" fill="#111111" textLength="18.4" lengthAdjust="spacingAndGlyphs">55</text>
<circle cx="1230.9" cy="1224.1" r="12.75" fill="#f8a070" stroke="#ffffff" stroke-width="3"/>
<text x="1230.9" y="1228.9" font-size="13.8" text-anchor="middle" fill="#111111" textLength="18.4" lengthAdjust="spacingAndGlyphs">56</text>
</g>
<g clip-path="url(#cp3)">
<circle cx="1412.1" cy="1057.0" r="12.75" fill="#5aaa94" stroke="#fcd22a" stroke-width="3"/>
<text x="1412.1" y="1061.8" font-size="13.8" text-anchor="middle" fill="#ffffff" textLength="9.4" lengthAdjust="spacingAndGlyphs">2</text>
<circle cx="1396.8" cy="1084.9" r="12.75" fill="#5aaa94" stroke="#fcd22a" stroke-width="3"/>
<text x="1396.8" y="1089.7" font-size="13.8" text-anchor="middle" fill="#ffffff" textLength="9.4" lengthAdjust="spacingAndGlyphs">3</text>
<circle cx="1396.8" cy="967.8" r="12.75" fill="#5aaa94" stroke="#fcd22a" stroke-width="3"/>
<text x="1396.8" y="972.6" font-size="13.8" text-anchor="middle" fill="#ffffff" textLength="9.4" lengthAdjust="spacingAndGlyphs">4</text>
<circle cx="1425.9" cy="674.3" r="12.75" fill="#5aaa94" stroke="#fcd22a" stroke-width="3"/>
<text x="1425.9" y="679.1" font-size="13.8" text-anchor="middle" fill="#ffffff" textLength="9.4" lengthAdjust="spacingAndGlyphs">5</text>
<circle cx="1396.8" cy="812.6" r="12.75" fill="#5aaa94" stroke="#fcd22a" stroke-width="3"/>
<text x="1396.8" y="817.4" font-size="13.8" text-anchor="middle" fill="#ffffff" textLength="9.4" lengthAdjust="spacingAndGlyphs">6</text>
<circle cx="1396.8" cy="524.9" r="12.75" fill="#5aaa94" stroke="#fcd22a" stroke-width="3"/>
<text x="1396.8" y="529.7" font-size="13.8" text-anchor="middle" fill="#ffffff" textLength="9.4" lengthAdjust="spacingAndGlyphs">7</text>
<circle cx="1406.8" cy="660.5" r="12.75" fill="#5aaa94" stroke="#fcd22a" stroke-width="3"/>
<text x="1406.8" y="665.3" font-size="13.8" text-anchor="middle" fill="#ffffff" textLength="9.4" lengthAdjust="spacingAndGlyphs">8</text>
<circle cx="1396.8" cy="697.0" r="12.75" fill="#5aaa94" stroke="#fcd22a" stroke-width="3"/>
<text x="1396.8" y="701.8" font-size="13.8" text-anchor="middle" fill="#ffffff" textLength="9.4" lengthAdjust="spacingAndGlyphs">9</text>
<circle cx="1381.5" cy="670.0" r="12.75" fill="#5aaa94" stroke="#fcd22a" stroke-width="3"/>
<text x="1381.5" y="674.8" font-size="13.8" text-anchor="middle" fill="#ffffff" textLength="18.4" lengthAdjust="spacingAndGlyphs">10</text>
<circle cx="1461.7" cy="833.7" r="12.75" fill="#5aaa94" stroke="#ffffff" stroke-width="3"/>
<text x="1461.7" y="838.5" font-size="13.8" text-anchor="middle" fill="#ffffff" textLength="18.4" lengthAdjust="spacingAndGlyphs">13</text>
<circle cx="1461.7" cy="1093.4" r="12.75" fill="#5aaa94" stroke="#ffffff" stroke-width="3"/>
<text x="1461.7" y="1098.2" font-size="13.8" text-anchor="middle" fill="#ffffff" textLength="18.4" lengthAdjust="spacingAndGlyphs">14</text>
<circle cx="1481.3" cy="1086.0" r="12.75" fill="#5aaa94" stroke="#ffffff" stroke-width="3"/>
<text x="1481.3" y="1090.8" font-size="13.8" text-anchor="middle" fill="#ffffff" textLength="18.4" lengthAdjust="spacingAndGlyphs">15</text>
<circle cx="1481.3" cy="1028.5" r="12.75" fill="#5aaa94" stroke="#ffffff" stroke-width="3"/>
<text x="1481.3" y="1033.3" font-size="13.8" text-anchor="middle" fill="#ffffff" textLength="18.4" lengthAdjust="spacingAndGlyphs">16</text>
<circle cx="1441.7" cy="1032.7" r="12.75" fill="#5aaa94" stroke="#ffffff" stroke-width="3"/>
<text x="1441.7" y="1037.5" font-size="13.8" text-anchor="middle" fill="#ffffff" textLength="18.4" lengthAdjust="spacingAndGlyphs">17</text>
<circle cx="1461.7" cy="1036.9" r="12.75" fill="#5aaa94" stroke="#ffffff" stroke-width="3"/>
<text x="1461.7" y="1041.7" font-size="13.8" text-anchor="middle" fill="#ffffff" textLength="18.4" lengthAdjust="spacingAndGlyphs">18</text>
<circle cx="1461.7" cy="991.0" r="12.75" fill="#5aaa94" stroke="#ffffff" stroke-width="3"/>
<text x="1461.7" y="995.8" font-size="13.8" text-anchor="middle" fill="#ffffff" textLength="18.4" lengthAdjust="spacingAndGlyphs">19</text>
<circle cx="1545.4" cy="1242.8" r="12.75" fill="#5aaa94" stroke="#da291c" stroke-width="3"/>
<text x="1545.4" y="1247.6" font-size="13.8" text-anchor="middle" fill="#ffffff" textLength="18.4" lengthAdjust="spacingAndGlyphs">32</text>
<circle cx="1546.0" cy="1383.2" r="12.75" fill="#5aaa94" stroke="#da291c" stroke-width="3"/>
<text x="1546.0" y="1388.0" font-size="13.8" text-anchor="middle" fill="#ffffff" textLength="18.4" lengthAdjust="spacingAndGlyphs">33</text>
<circle cx="1526.0" cy="1388.8" r="12.75" fill="#5aaa94" stroke="#da291c" stroke-width="3"/>
<text x="1526.0" y="1393.6" font-size="13.8" text-anchor="middle" fill="#ffffff" textLength="18.4" lengthAdjust="spacingAndGlyphs">34</text>
<circle cx="1526.0" cy="1316.6" r="12.75" fill="#5aaa94" stroke="#da291c" stroke-width="3"/>
<text x="1526.0" y="1321.4" font-size="13.8" text-anchor="middle" fill="#ffffff" textLength="18.4" lengthAdjust="spacingAndGlyphs">35</text>
<circle cx="1526.0" cy="1154.3" r="12.75" fill="#5aaa94" stroke="#da291c" stroke-width="3"/>
<text x="1526.0" y="1159.1" font-size="13.8" text-anchor="middle" fill="#ffffff" textLength="18.4" lengthAdjust="spacingAndGlyphs">36</text>
<circle cx="1526.0" cy="1201.4" r="12.75" fill="#5aaa94" stroke="#da291c" stroke-width="3"/>
<text x="1526.0" y="1206.2" font-size="13.8" text-anchor="middle" fill="#ffffff" textLength="18.4" lengthAdjust="spacingAndGlyphs">37</text>
<circle cx="1526.0" cy="1256.7" r="12.75" fill="#5aaa94" stroke="#da291c" stroke-width="3"/>
<text x="1526.0" y="1261.5" font-size="13.8" text-anchor="middle" fill="#ffffff" textLength="18.4" lengthAdjust="spacingAndGlyphs">38</text>
<circle cx="1546.0" cy="1191.6" r="12.75" fill="#5aaa94" stroke="#da291c" stroke-width="3"/>
<text x="1546.0" y="1196.4" font-size="13.8" text-anchor="middle" fill="#ffffff" textLength="18.4" lengthAdjust="spacingAndGlyphs">39</text>
<circle cx="1553.6" cy="1143.5" r="12.75" fill="#5aaa94" stroke="#da291c" stroke-width="3"/>
<text x="1553.6" y="1148.3" font-size="13.8" text-anchor="middle" fill="#ffffff" textLength="18.4" lengthAdjust="spacingAndGlyphs">40</text>
<circle cx="1537.2" cy="1118.4" r="12.75" fill="#5aaa94" stroke="#da291c" stroke-width="3"/>
<text x="1537.2" y="1123.2" font-size="13.8" text-anchor="middle" fill="#ffffff" textLength="18.4" lengthAdjust="spacingAndGlyphs">41</text>
<circle cx="1512.7" cy="1123.5" r="12.75" fill="#5aaa94" stroke="#da291c" stroke-width="3"/>
<text x="1512.7" y="1128.3" font-size="13.8" text-anchor="middle" fill="#ffffff" textLength="18.4" lengthAdjust="spacingAndGlyphs">42</text>
<circle cx="1591.0" cy="1713.4" r="12.75" fill="#5aaa94" stroke="#fcd22a" stroke-width="3"/>
<text x="1591.0" y="1718.2" font-size="13.8" text-anchor="middle" fill="#ffffff" textLength="18.4" lengthAdjust="spacingAndGlyphs">45</text>
<circle cx="1604.3" cy="1368.3" r="12.75" fill="#5aaa94" stroke="#fcd22a" stroke-width="3"/>
<text x="1604.3" y="1373.1" font-size="13.8" text-anchor="middle" fill="#ffffff" textLength="18.4" lengthAdjust="spacingAndGlyphs">46</text>
<circle cx="1608.9" cy="1287.9" r="12.75" fill="#5aaa94" stroke="#fcd22a" stroke-width="3"/>
<text x="1608.9" y="1292.7" font-size="13.8" text-anchor="middle" fill="#ffffff" textLength="18.4" lengthAdjust="spacingAndGlyphs">47</text>
<circle cx="1591.0" cy="1313.0" r="12.75" fill="#5aaa94" stroke="#fcd22a" stroke-width="3"/>
<text x="1591.0" y="1317.8" font-size="13.8" text-anchor="middle" fill="#ffffff" textLength="18.4" lengthAdjust="spacingAndGlyphs">48</text>
<circle cx="1617.6" cy="1398.5" r="12.75" fill="#5aaa94" stroke="#fcd22a" stroke-width="3"/>
<text x="1617.6" y="1403.3" font-size="13.8" text-anchor="middle" fill="#ffffff" textLength="18.4" lengthAdjust="spacingAndGlyphs">49</text>
<circle cx="1591.0" cy="1444.1" r="12.75" fill="#5aaa94" stroke="#fcd22a" stroke-width="3"/>
<text x="1591.0" y="1448.9" font-size="13.8" text-anchor="middle" fill="#ffffff" textLength="18.4" lengthAdjust="spacingAndGlyphs">50</text>
<circle cx="1559.3" cy="1382.1" r="12.75" fill="#5aaa94" stroke="#fcd22a" stroke-width="3"/>
<text x="1559.3" y="1386.9" font-size="13.8" text-anchor="middle" fill="#ffffff" textLength="18.4" lengthAdjust="spacingAndGlyphs">51</text>
<circle cx="1591.0" cy="1400.1" r="12.75" fill="#5aaa94" stroke="#fcd22a" stroke-width="3"/>
<text x="1591.0" y="1404.9" font-size="13.8" text-anchor="middle" fill="#ffffff" textLength="18.4" lengthAdjust="spacingAndGlyphs">52</text>
<circle cx="1577.7" cy="1368.3" r="12.75" fill="#5aaa94" stroke="#fcd22a" stroke-width="3"/>
<text x="1577.7" y="1373.1" font-size="13.8" text-anchor="middle" fill="#ffffff" textLength="18.4" lengthAdjust="spacingAndGlyphs">53</text>
<circle cx="1591.0" cy="1205.5" r="12.75" fill="#5aaa94" stroke="#fcd22a" stroke-width="3"/>
<text x="1591.0" y="1210.3" font-size="13.8" text-anchor="middle" fill="#ffffff" textLength="18.4" lengthAdjust="spacingAndGlyphs">54</text>
<circle cx="1591.0" cy="1269.5" r="12.75" fill="#5aaa94" stroke="#fcd22a" stroke-width="3"/>
<text x="1591.0" y="1274.3" font-size="13.8" text-anchor="middle" fill="#ffffff" textLength="18.4" lengthAdjust="spacingAndGlyphs">55</text>
<circle cx="1607.9" cy="1231.6" r="12.75" fill="#5aaa94" stroke="#fcd22a" stroke-width="3"/>
<text x="1607.9" y="1236.4" font-size="13.8" text-anchor="middle" fill="#ffffff" textLength="18.4" lengthAdjust="spacingAndGlyphs">56</text>
</g>
<g clip-path="url(#cp4)">
<circle cx="1773.9" cy="921.4" r="12.75" fill="#f41539" stroke="#fcd22a" stroke-width="3"/>
<text x="1773.9" y="926.2" font-size="13.8" text-anchor="middle" fill="#ffffff" textLength="9.4" lengthAdjust="spacingAndGlyphs">2</text>
<circle cx="1808.7" cy="866.6" r="12.75" fill="#f41539" stroke="#fcd22a" stroke-width="3"/>
<text x="1808.7" y="871.4" font-size="13.8" text-anchor="middle" fill="#ffffff" textLength="9.4" lengthAdjust="spacingAndGlyphs">3</text>
<circle cx="1756.2" cy="840.6" r="12.75" fill="#f41539" stroke="#fcd22a" stroke-width="3"/>
<text x="1756.2" y="845.4" font-size="13.8" text-anchor="middle" fill="#ffffff" textLength="9.4" lengthAdjust="spacingAndGlyphs">4</text>
<circle cx="1738.5" cy="865.4" r="12.75" fill="#f41539" stroke="#fcd22a" stroke-width="3"/>
<text x="1738.5" y="870.2" font-size="13.8" text-anchor="middle" fill="#ffffff" textLength="9.4" lengthAdjust="spacingAndGlyphs">5</text>
<circle cx="1773.9" cy="819.9" r="12.75" fill="#f41539" stroke="#fcd22a" stroke-width="3"/>
<text x="1773.9" y="824.7" font-size="13.8" text-anchor="middle" fill="#ffffff" textLength="9.4" lengthAdjust="spacingAndGlyphs">6</text>
<circle cx="1792.2" cy="801.6" r="12.75" fill="#f41539" stroke="#fcd22a" stroke-width="3"/>
<text x="1792.2" y="806.4" font-size="13.8" text-anchor="middle" fill="#ffffff" textLength="9.4" lengthAdjust="spacingAndGlyphs">7</text>
<circle cx="1773.9" cy="692.5" r="12.75" fill="#f41539" stroke="#fcd22a" stroke-width="3"/>
<text x="1773.9" y="697.3" font-size="13.8" text-anchor="middle" fill="#ffffff" textLength="9.4" lengthAdjust="spacingAndGlyphs">8</text>
<circle cx="1791.0" cy="847.1" r="12.75" fill="#f41539" stroke="#fcd22a" stroke-width="3"/>
<text x="1791.0" y="851.9" font-size="13.8" text-anchor="middle" fill="#ffffff" textLength="9.4" lengthAdjust="spacingAndGlyphs">9</text>
<circle cx="1738.5" cy="819.9" r="12.75" fill="#f41539" stroke="#fcd22a" stroke-width="3"/>
<text x="1738.5" y="824.7" font-size="13.8" text-anchor="middle" fill="#ffffff" textLength="18.4" lengthAdjust="spacingAndGlyphs">10</text>
<circle cx="1828.8" cy="858.9" r="12.75" fill="#f41539" stroke="#fcd22a" stroke-width="3"/>
<text x="1828.8" y="863.7" font-size="13.8" text-anchor="middle" fill="#ffffff" textLength="18.4" lengthAdjust="spacingAndGlyphs">11</text>
<circle cx="1791.0" cy="896.7" r="12.75" fill="#f41539" stroke="#fcd22a" stroke-width="3"/>
<text x="1791.0" y="901.5" font-size="13.8" text-anchor="middle" fill="#ffffff" textLength="18.4" lengthAdjust="spacingAndGlyphs">12</text>
<circle cx="1773.9" cy="868.3" r="12.75" fill="#f41539" stroke="#fcd22a" stroke-width="3"/>
<text x="1773.9" y="873.1" font-size="13.8" text-anchor="middle" fill="#ffffff" textLength="18.4" lengthAdjust="spacingAndGlyphs">13</text>
<circle cx="1743.2" cy="921.4" r="12.75" fill="#f41539" stroke="#fcd22a" stroke-width="3"/>
<text x="1743.2" y="926.2" font-size="13.8" text-anchor="middle" fill="#ffffff" textLength="18.4" lengthAdjust="spacingAndGlyphs">14</text>
<circle cx="1809.3" cy="911.4" r="12.75" fill="#f41539" stroke="#fcd22a" stroke-width="3"/>
<text x="1809.3" y="916.2" font-size="13.8" text-anchor="middle" fill="#ffffff" textLength="18.4" lengthAdjust="spacingAndGlyphs">15</text>
<circle cx="1773.9" cy="740.3" r="12.75" fill="#f41539" stroke="#fcd22a" stroke-width="3"/>
<text x="1773.9" y="745.1" font-size="13.8" text-anchor="middle" fill="#ffffff" textLength="18.4" lengthAdjust="spacingAndGlyphs">16</text>
<circle cx="1756.2" cy="887.2" r="12.75" fill="#f41539" stroke="#fcd22a" stroke-width="3"/>
<text x="1756.2" y="892.0" font-size="13.8" text-anchor="middle" fill="#ffffff" textLength="18.4" lengthAdjust="spacingAndGlyphs">17</text>
<circle cx="1706.0" cy="861.8" r="12.75" fill="#f41539" stroke="#fcd22a" stroke-width="3"/>
<text x="1706.0" y="866.6" font-size="13.8" text-anchor="middle" fill="#ffffff" textLength="18.4" lengthAdjust="spacingAndGlyphs">18</text>
<circle cx="1722.0" cy="887.2" r="12.75" fill="#f41539" stroke="#fcd22a" stroke-width="3"/>
<text x="1722.0" y="892.0" font-size="13.8" text-anchor="middle" fill="#ffffff" textLength="18.4" lengthAdjust="spacingAndGlyphs">19</text>
<circle cx="1920.3" cy="1374.1" r="12.75" fill="#f41539" stroke="#ffffff" stroke-width="3"/>
<text x="1920.3" y="1378.9" font-size="13.8" text-anchor="middle" fill="#ffffff" textLength="18.4" lengthAdjust="spacingAndGlyphs">32</text>
<circle cx="1903.2" cy="1401.9" r="12.75" fill="#f41539" stroke="#ffffff" stroke-width="3"/>
<text x="1903.2" y="1406.7" font-size="13.8" text-anchor="middle" fill="#ffffff" textLength="18.4" lengthAdjust="spacingAndGlyphs">33</text>
<circle cx="1873.6" cy="1367.0" r="12.75" fill="#f41539" stroke="#ffffff" stroke-width="3"/>
<text x="1873.6" y="1371.8" font-size="13.8" text-anchor="middle" fill="#ffffff" textLength="18.4" lengthAdjust="spacingAndGlyphs">34</text>
<circle cx="1938.6" cy="1338.7" r="12.75" fill="#f41539" stroke="#ffffff" stroke-width="3"/>
<text x="1938.6" y="1343.5" font-size="13.8" text-anchor="middle" fill="#ffffff" textLength="18.4" lengthAdjust="spacingAndGlyphs">35</text>
<circle cx="1917.9" cy="1325.1" r="12.75" fill="#f41539" stroke="#ffffff" stroke-width="3"/>
<text x="1917.9" y="1329.9" font-size="13.8" text-anchor="middle" fill="#ffffff" textLength="18.4" lengthAdjust="spacingAndGlyphs">36</text>
<circle cx="1886.0" cy="1273.8" r="12.75" fill="#f41539" stroke="#ffffff" stroke-width="3"/>
<text x="1886.0" y="1278.6" font-size="13.8" text-anchor="middle" fill="#ffffff" textLength="18.4" lengthAdjust="spacingAndGlyphs">37</text>
<circle cx="1853.6" cy="1268.5" r="12.75" fill="#f41539" stroke="#ffffff" stroke-width="3"/>
<text x="1853.6" y="1273.3" font-size="13.8" text-anchor="middle" fill="#ffffff" textLength="18.4" lengthAdjust="spacingAndGlyphs">38</text>
<circle cx="1903.2" cy="1124.5" r="12.75" fill="#f41539" stroke="#ffffff" stroke-width="3"/>
<text x="1903.2" y="1129.3" font-size="13.8" text-anchor="middle" fill="#ffffff" textLength="18.4" lengthAdjust="spacingAndGlyphs">39</text>
<circle cx="1885.4" cy="1332.8" r="12.75" fill="#f41539" stroke="#ffffff" stroke-width="3"/>
<text x="1885.4" y="1337.6" font-size="13.8" text-anchor="middle" fill="#ffffff" textLength="18.4" lengthAdjust="spacingAndGlyphs">40</text>
<circle cx="1903.2" cy="1355.2" r="12.75" fill="#f41539" stroke="#ffffff" stroke-width="3"/>
<text x="1903.2" y="1360.0" font-size="13.8" text-anchor="middle" fill="#ffffff" textLength="18.4" lengthAdjust="spacingAndGlyphs">41</text>
<circle cx="1903.2" cy="1298.6" r="12.75" fill="#f41539" stroke="#ffffff" stroke-width="3"/>
<text x="1903.2" y="1303.4" font-size="13.8" text-anchor="middle" fill="#ffffff" textLength="18.4" lengthAdjust="spacingAndGlyphs">42</text>
<circle cx="1870.7" cy="1298.6" r="12.75" fill="#f41539" stroke="#ffffff" stroke-width="3"/>
<text x="1870.7" y="1303.4" font-size="13.8" text-anchor="middle" fill="#ffffff" textLength="18.4" lengthAdjust="spacingAndGlyphs">43</text>
<circle cx="1953.9" cy="1312.1" r="12.75" fill="#f41539" stroke="#ffffff" stroke-width="3"/>
<text x="1953.9" y="1316.9" font-size="13.8" text-anchor="middle" fill="#ffffff" textLength="18.4" lengthAdjust="spacingAndGlyphs">44</text>
<circle cx="1919.7" cy="1275.0" r="12.75" fill="#f41539" stroke="#ffffff" stroke-width="3"/>
<text x="1919.7" y="1279.8" font-size="13.8" text-anchor="middle" fill="#ffffff" textLength="18.4" lengthAdjust="spacingAndGlyphs">45</text>
<circle cx="1955.1" cy="1235.4" r="12.75" fill="#f41539" stroke="#ffffff" stroke-width="3"/>
<text x="1955.1" y="1240.2" font-size="13.8" text-anchor="middle" fill="#ffffff" textLength="18.4" lengthAdjust="spacingAndGlyphs">46</text>
<circle cx="1920.9" cy="1217.7" r="12.75" fill="#f41539" stroke="#ffffff" stroke-width="3"/>
<text x="1920.9" y="1222.5" font-size="13.8" text-anchor="middle" fill="#ffffff" textLength="18.4" lengthAdjust="spacingAndGlyphs">47</text>
<circle cx="1903.2" cy="1248.4" r="12.75" fill="#f41539" stroke="#ffffff" stroke-width="3"/>
<text x="1903.2" y="1253.2" font-size="13.8" text-anchor="middle" fill="#ffffff" textLength="18.4" lengthAdjust="spacingAndGlyphs">48</text>
<circle cx="1903.2" cy="1196.5" r="12.75" fill="#f41539" stroke="#ffffff" stroke-width="3"/>
<text x="1903.2" y="1201.3" font-size="13.8" text-anchor="middle" fill="#ffffff" textLength="18.4" lengthAdjust="spacingAndGlyphs">49</text>
<circle cx="1884.3" cy="1214.2" r="12.75" fill="#f41539" stroke="#ffffff" stroke-width="3"/>
<text x="1884.3" y="1219.0" font-size="13.8" text-anchor="middle" fill="#ffffff" textLength="18.4" lengthAdjust="spacingAndGlyphs">50</text>
<circle cx="1868.3" cy="1240.1" r="12.75" fill="#f41539" stroke="#ffffff" stroke-width="3"/>
<text x="1868.3" y="1244.9" font-size="13.8" text-anchor="middle" fill="#ffffff" textLength="18.4" lengthAdjust="spacingAndGlyphs">51</text>
<circle cx="1936.2" cy="1190.6" r="12.75" fill="#f41539" stroke="#ffffff" stroke-width="3"/>
<text x="1936.2" y="1195.4" font-size="13.8" text-anchor="middle" fill="#ffffff" textLength="18.4" lengthAdjust="spacingAndGlyphs">52</text>
<circle cx="1855.3" cy="1208.3" r="12.75" fill="#f41539" stroke="#ffffff" stroke-width="3"/>
<text x="1855.3" y="1213.1" font-size="13.8" text-anchor="middle" fill="#ffffff" textLength="18.4" lengthAdjust="spacingAndGlyphs">53</text>
<circle cx="1935.6" cy="1246.6" r="12.75" fill="#f41539" stroke="#ffffff" stroke-width="3"/>
<text x="1935.6" y="1251.4" font-size="13.8" text-anchor="middle" fill="#ffffff" textLength="18.4" lengthAdjust="spacingAndGlyphs">54</text>
<circle cx="1921.4" cy="1106.2" r="12.75" fill="#f41539" stroke="#ffffff" stroke-width="3"/>
<text x="1921.4" y="1111.0" font-size="13.8" text-anchor="middle" fill="#ffffff" textLength="18.4" lengthAdjust="spacingAndGlyphs">55</text>
<circle cx="1917.9" cy="1167.6" r="12.75" fill="#f41539" stroke="#ffffff" stroke-width="3"/>
<text x="1917.9" y="1172.4" font-size="13.8" text-anchor="middle" fill="#ffffff" textLength="18.4" lengthAdjust="spacingAndGlyphs">56</text>
</g>
<g clip-path="url(#cp5)">
<circle cx="2097.4" cy="944.9" r="12.75" fill="#6cd3bf" stroke="#fcd22a" stroke-width="3"/>
<text x="2097.4" y="949.7" font-size="13.8" text-anchor="middle" fill="#111111" textLength="9.4" lengthAdjust="spacingAndGlyphs">2</text>
<circle cx="2115.9" cy="930.2" r="12.75" fill="#6cd3bf" stroke="#fcd22a" stroke-width="3"/>
<text x="2115.9" y="935.0" font-size="13.8" text-anchor="middle" fill="#111111" textLength="9.4" lengthAdjust="spacingAndGlyphs">3</text>
<circle cx="2097.4" cy="802.8" r="12.75" fill="#6cd3bf" stroke="#fcd22a" stroke-width="3"/>
<text x="2097.4" y="807.6" font-size="13.8" text-anchor="middle" fill="#111111" textLength="9.4" lengthAdjust="spacingAndGlyphs">4</text>
<circle cx="2097.4" cy="848.0" r="12.75" fill="#6cd3bf" stroke="#fcd22a" stroke-width="3"/>
<text x="2097.4" y="852.8" font-size="13.8" text-anchor="middle" fill="#111111" textLength="9.4" lengthAdjust="spacingAndGlyphs">5</text>
<circle cx="2107.6" cy="766.5" r="12.75" fill="#6cd3bf" stroke="#fcd22a" stroke-width="3"/>
<text x="2107.6" y="771.3" font-size="13.8" text-anchor="middle" fill="#111111" textLength="9.4" lengthAdjust="spacingAndGlyphs">6</text>
<circle cx="2085.3" cy="768.4" r="12.75" fill="#6cd3bf" stroke="#fcd22a" stroke-width="3"/>
<text x="2085.3" y="773.2" font-size="13.8" text-anchor="middle" fill="#111111" textLength="9.4" lengthAdjust="spacingAndGlyphs">7</text>
<circle cx="2097.4" cy="663.9" r="12.75" fill="#6cd3bf" stroke="#fcd22a" stroke-width="3"/>
<text x="2097.4" y="668.7" font-size="13.8" text-anchor="middle" fill="#111111" textLength="9.4" lengthAdjust="spacingAndGlyphs">8</text>
<circle cx="2097.4" cy="490.6" r="12.75" fill="#6cd3bf" stroke="#fcd22a" stroke-width="3"/>
<text x="2097.4" y="495.4" font-size="13.8" text-anchor="middle" fill="#111111" textLength="9.4" lengthAdjust="spacingAndGlyphs">9</text>
<circle cx="2114.6" cy="641.6" r="12.75" fill="#6cd3bf" stroke="#fcd22a" stroke-width="3"/>
<text x="2114.6" y="646.4" font-size="13.8" text-anchor="middle" fill="#111111" textLength="18.4" lengthAdjust="spacingAndGlyphs">10</text>
<circle cx="2182.8" cy="1124.6" r="12.75" fill="#6cd3bf" stroke="#fcd22a" stroke-width="3"/>
<text x="2182.8" y="1129.4" font-size="13.8" text-anchor="middle" fill="#111111" textLength="18.4" lengthAdjust="spacingAndGlyphs">13</text>
<circle cx="2182.8" cy="933.4" r="12.75" fill="#6cd3bf" stroke="#fcd22a" stroke-width="3"/>
<text x="2182.8" y="938.2" font-size="13.8" text-anchor="middle" fill="#111111" textLength="18.4" lengthAdjust="spacingAndGlyphs">14</text>
<circle cx="2182.8" cy="1022.0" r="12.75" fill="#6cd3bf" stroke="#fcd22a" stroke-width="3"/>
<text x="2182.8" y="1026.8" font-size="13.8" text-anchor="middle" fill="#111111" textLength="18.4" lengthAdjust="spacingAndGlyphs">15</text>
<circle cx="2145.8" cy="1003.5" r="12.75" fill="#6cd3bf" stroke="#fcd22a" stroke-width="3"/>
<text x="2145.8" y="1008.3" font-size="13.8" text-anchor="middle" fill="#111111" textLength="18.4" lengthAdjust="spacingAndGlyphs">16</text>
<circle cx="2210.2" cy="1008.0" r="12.75" fill="#6cd3bf" stroke="#fcd22a" stroke-width="3"/>
<text x="2210.2" y="1012.8" font-size="13.8" text-anchor="middle" fill="#111111" textLength="18.4" lengthAdjust="spacingAndGlyphs">17</text>
<circle cx="2193.6" cy="985.7" r="12.75" fill="#6cd3bf" stroke="#fcd22a" stroke-width="3"/>
<text x="2193.6" y="990.5" font-size="13.8" text-anchor="middle" fill="#111111" textLength="18.4" lengthAdjust="spacingAndGlyphs">18</text>
<circle cx="2165.6" cy="1000.3" r="12.75" fill="#6cd3bf" stroke="#fcd22a" stroke-width="3"/>
<text x="2165.6" y="1005.1" font-size="13.8" text-anchor="middle" fill="#111111" textLength="18.4" lengthAdjust="spacingAndGlyphs">19</text>
<circle cx="2249.7" cy="1144.3" r="12.75" fill="#6cd3bf" stroke="#ffffff" stroke-width="3"/>
<text x="2249.7" y="1149.1" font-size="13.8" text-anchor="middle" fill="#111111" textLength="18.4" lengthAdjust="spacingAndGlyphs">32</text>
<circle cx="2284.1" cy="1186.4" r="12.75" fill="#6cd3bf" stroke="#ffffff" stroke-width="3"/>
<text x="2284.1" y="1191.2" font-size="13.8" text-anchor="middle" fill="#111111" textLength="18.4" lengthAdjust="spacingAndGlyphs">33</text>
<circle cx="2253.5" cy="1188.3" r="12.75" fill="#6cd3bf" stroke="#ffffff" stroke-width="3"/>
<text x="2253.5" y="1193.1" font-size="13.8" text-anchor="middle" fill="#111111" textLength="18.4" lengthAdjust="spacingAndGlyphs">34</text>
<circle cx="2217.8" cy="1183.2" r="12.75" fill="#6cd3bf" stroke="#ffffff" stroke-width="3"/>
<text x="2217.8" y="1188.0" font-size="13.8" text-anchor="middle" fill="#111111" textLength="18.4" lengthAdjust="spacingAndGlyphs">35</text>
<circle cx="2318.5" cy="1182.6" r="12.75" fill="#6cd3bf" stroke="#ffffff" stroke-width="3"/>
<text x="2318.5" y="1187.4" font-size="13.8" text-anchor="middle" fill="#111111" textLength="18.4" lengthAdjust="spacingAndGlyphs">36</text>
<circle cx="2208.9" cy="1145.6" r="12.75" fill="#6cd3bf" stroke="#ffffff" stroke-width="3"/>
<text x="2208.9" y="1150.4" font-size="13.8" text-anchor="middle" fill="#111111" textLength="18.4" lengthAdjust="spacingAndGlyphs">37</text>
<circle cx="2180.2" cy="1191.5" r="12.75" fill="#6cd3bf" stroke="#ffffff" stroke-width="3"/>
<text x="2180.2" y="1196.3" font-size="13.8" text-anchor="middle" fill="#111111" textLength="18.4" lengthAdjust="spacingAndGlyphs">38</text>
<circle cx="2269.4" cy="1258.4" r="12.75" fill="#6cd3bf" stroke="#ffffff" stroke-width="3"/>
<text x="2269.4" y="1263.2" font-size="13.8" text-anchor="middle" fill="#111111" textLength="18.4" lengthAdjust="spacingAndGlyphs">39</text>
<circle cx="2231.8" cy="1127.1" r="12.75" fill="#6cd3bf" stroke="#ffffff" stroke-width="3"/>
<text x="2231.8" y="1131.9" font-size="13.8" text-anchor="middle" fill="#111111" textLength="18.4" lengthAdjust="spacingAndGlyphs">40</text>
<circle cx="2279.0" cy="1078.1" r="12.75" fill="#6cd3bf" stroke="#ffffff" stroke-width="3"/>
<text x="2279.0" y="1082.9" font-size="13.8" text-anchor="middle" fill="#111111" textLength="18.4" lengthAdjust="spacingAndGlyphs">41</text>
<circle cx="2325.5" cy="1127.8" r="12.75" fill="#6cd3bf" stroke="#ffffff" stroke-width="3"/>
<text x="2325.5" y="1132.6" font-size="13.8" text-anchor="middle" fill="#111111" textLength="18.4" lengthAdjust="spacingAndGlyphs">42</text>
<circle cx="2188.5" cy="1146.2" r="12.75" fill="#6cd3bf" stroke="#ffffff" stroke-width="3"/>
<text x="2188.5" y="1151.0" font-size="13.8" text-anchor="middle" fill="#111111" textLength="18.4" lengthAdjust="spacingAndGlyphs">43</text>
<circle cx="2301.9" cy="1205.5" r="12.75" fill="#6cd3bf" stroke="#ffffff" stroke-width="3"/>
<text x="2301.9" y="1210.3" font-size="13.8" text-anchor="middle" fill="#111111" textLength="18.4" lengthAdjust="spacingAndGlyphs">44</text>
<circle cx="2269.4" cy="1158.4" r="12.75" fill="#6cd3bf" stroke="#ffffff" stroke-width="3"/>
<text x="2269.4" y="1163.2" font-size="13.8" text-anchor="middle" fill="#111111" textLength="18.4" lengthAdjust="spacingAndGlyphs">45</text>
<circle cx="2235.0" cy="1205.5" r="12.75" fill="#6cd3bf" stroke="#ffffff" stroke-width="3"/>
<text x="2235.0" y="1210.3" font-size="13.8" text-anchor="middle" fill="#111111" textLength="18.4" lengthAdjust="spacingAndGlyphs">46</text>
<circle cx="2200.0" cy="1201.0" r="12.75" fill="#6cd3bf" stroke="#ffffff" stroke-width="3"/>
<text x="2200.0" y="1205.8" font-size="13.8" text-anchor="middle" fill="#111111" textLength="18.4" lengthAdjust="spacingAndGlyphs">47</text>
<circle cx="2337.0" cy="1203.0" r="12.75" fill="#6cd3bf" stroke="#ffffff" stroke-width="3"/>
<text x="2337.0" y="1207.8" font-size="13.8" text-anchor="middle" fill="#111111" textLength="18.4" lengthAdjust="spacingAndGlyphs">48</text>
<circle cx="2286.0" cy="1237.4" r="12.75" fill="#6cd3bf" stroke="#ffffff" stroke-width="3"/>
<text x="2286.0" y="1242.2" font-size="13.8" text-anchor="middle" fill="#111111" textLength="18.4" lengthAdjust="spacingAndGlyphs">49</text>
<circle cx="2356.1" cy="1187.7" r="12.75" fill="#6cd3bf" stroke="#ffffff" stroke-width="3"/>
<text x="2356.1" y="1192.5" font-size="13.8" text-anchor="middle" fill="#111111" textLength="18.4" lengthAdjust="spacingAndGlyphs">50</text>
<circle cx="2269.4" cy="1215.1" r="12.75" fill="#6cd3bf" stroke="#ffffff" stroke-width="3"/>
<text x="2269.4" y="1219.9" font-size="13.8" text-anchor="middle" fill="#111111" textLength="18.4" lengthAdjust="spacingAndGlyphs">51</text>
<circle cx="2286.0" cy="1136.1" r="12.75" fill="#6cd3bf" stroke="#ffffff" stroke-width="3"/>
<text x="2286.0" y="1140.9" font-size="13.8" text-anchor="middle" fill="#111111" textLength="18.4" lengthAdjust="spacingAndGlyphs">52</text>
<circle cx="2343.3" cy="1148.2" r="12.75" fill="#6cd3bf" stroke="#ffffff" stroke-width="3"/>
<text x="2343.3" y="1153.0" font-size="13.8" text-anchor="middle" fill="#111111" textLength="18.4" lengthAdjust="spacingAndGlyphs">53</text>
<circle cx="2269.4" cy="1114.4" r="12.75" fill="#6cd3bf" stroke="#ffffff" stroke-width="3"/>
<text x="2269.4" y="1119.2" font-size="13.8" text-anchor="middle" fill="#111111" textLength="18.4" lengthAdjust="spacingAndGlyphs">54</text>
<circle cx="2269.4" cy="998.4" r="12.75" fill="#6cd3bf" stroke="#ffffff" stroke-width="3"/>
<text x="2269.4" y="1003.2" font-size="13.8" text-anchor="middle" fill="#111111" textLength="18.4" lengthAdjust="spacingAndGlyphs">55</text>
<circle cx="2305.8" cy="1123.9" r="12.75" fill="#6cd3bf" stroke="#ffffff" stroke-width="3"/>
<text x="2305.8" y="1128.7" font-size="13.8" text-anchor="middle" fill="#111111" textLength="18.4" lengthAdjust="spacingAndGlyphs">56</text>
</g>
<g clip-path="url(#cp6)">
<circle cx="2481.6" cy="862.0" r="12.75" fill="#f56a78" stroke="#fcd22a" stroke-width="3"/>
<text x="2481.6" y="866.8" font-size="13.8" text-anchor="middle" fill="#ffffff" textLength="9.4" lengthAdjust="spacingAndGlyphs">2</text>
<circle cx="2463.3" cy="889.2" r="12.75" fill="#f56a78" stroke="#fcd22a" stroke-width="3"/>
<text x="2463.3" y="894.0" font-size="13.8" text-anchor="middle" fill="#ffffff" textLength="9.4" lengthAdjust="spacingAndGlyphs">3</text>
<circle cx="2444.4" cy="856.1" r="12.75" fill="#f56a78" stroke="#fcd22a" stroke-width="3"/>
<text x="2444.4" y="860.9" font-size="13.8" text-anchor="middle" fill="#ffffff" textLength="9.4" lengthAdjust="spacingAndGlyphs">4</text>
<circle cx="2463.3" cy="842.5" r="12.75" fill="#f56a78" stroke="#fcd22a" stroke-width="3"/>
<text x="2463.3" y="847.3" font-size="13.8" text-anchor="middle" fill="#ffffff" textLength="9.4" lengthAdjust="spacingAndGlyphs">5</text>
<circle cx="2472.2" cy="804.2" r="12.75" fill="#f56a78" stroke="#fcd22a" stroke-width="3"/>
<text x="2472.2" y="809.0" font-size="13.8" text-anchor="middle" fill="#ffffff" textLength="9.4" lengthAdjust="spacingAndGlyphs">6</text>
<circle cx="2476.9" cy="729.2" r="12.75" fill="#f56a78" stroke="#fcd22a" stroke-width="3"/>
<text x="2476.9" y="734.0" font-size="13.8" text-anchor="middle" fill="#ffffff" textLength="9.4" lengthAdjust="spacingAndGlyphs">7</text>
<circle cx="2463.3" cy="696.2" r="12.75" fill="#f56a78" stroke="#fcd22a" stroke-width="3"/>
<text x="2463.3" y="701.0" font-size="13.8" text-anchor="middle" fill="#ffffff" textLength="9.4" lengthAdjust="spacingAndGlyphs">8</text>
<circle cx="2429.1" cy="726.3" r="12.75" fill="#f56a78" stroke="#fcd22a" stroke-width="3"/>
<text x="2429.1" y="731.1" font-size="13.8" text-anchor="middle" fill="#ffffff" textLength="9.4" lengthAdjust="spacingAndGlyphs">9</text>
<circle cx="2463.3" cy="639.5" r="12.75" fill="#f56a78" stroke="#fcd22a" stroke-width="3"/>
<text x="2463.3" y="644.3" font-size="13.8" text-anchor="middle" fill="#ffffff" textLength="18.4" lengthAdjust="spacingAndGlyphs">10</text>
<circle cx="2443.9" cy="626.6" r="12.75" fill="#f56a78" stroke="#fcd22a" stroke-width="3"/>
<text x="2443.9" y="631.4" font-size="13.8" text-anchor="middle" fill="#ffffff" textLength="18.4" lengthAdjust="spacingAndGlyphs">11</text>
<circle cx="2463.3" cy="765.2" r="12.75" fill="#f56a78" stroke="#fcd22a" stroke-width="3"/>
<text x="2463.3" y="770.0" font-size="13.8" text-anchor="middle" fill="#ffffff" textLength="18.4" lengthAdjust="spacingAndGlyphs">12</text>
<circle cx="2452.1" cy="805.4" r="12.75" fill="#f56a78" stroke="#fcd22a" stroke-width="3"/>
<text x="2452.1" y="810.2" font-size="13.8" text-anchor="middle" fill="#ffffff" textLength="18.4" lengthAdjust="spacingAndGlyphs">13</text>
<circle cx="2479.3" cy="669.6" r="12.75" fill="#f56a78" stroke="#fcd22a" stroke-width="3"/>
<text x="2479.3" y="674.4" font-size="13.8" text-anchor="middle" fill="#ffffff" textLength="18.4" lengthAdjust="spacingAndGlyphs">14</text>
<circle cx="2449.8" cy="727.5" r="12.75" fill="#f56a78" stroke="#fcd22a" stroke-width="3"/>
<text x="2449.8" y="732.3" font-size="13.8" text-anchor="middle" fill="#ffffff" textLength="18.4" lengthAdjust="spacingAndGlyphs">15</text>
<circle cx="2494.6" cy="747.5" r="12.75" fill="#f56a78" stroke="#fcd22a" stroke-width="3"/>
<text x="2494.6" y="752.3" font-size="13.8" text-anchor="middle" fill="#ffffff" textLength="18.4" lengthAdjust="spacingAndGlyphs">16</text>
<circle cx="2592.6" cy="1327.0" r="12.75" fill="#f56a78" stroke="#ffffff" stroke-width="3"/>
<text x="2592.6" y="1331.8" font-size="13.8" text-anchor="middle" fill="#ffffff" textLength="18.4" lengthAdjust="spacingAndGlyphs">19</text>
<circle cx="2525.9" cy="1201.3" r="12.75" fill="#f56a78" stroke="#ffffff" stroke-width="3"/>
<text x="2525.9" y="1206.1" font-size="13.8" text-anchor="middle" fill="#ffffff" textLength="18.4" lengthAdjust="spacingAndGlyphs">32</text>
<circle cx="2592.6" cy="1270.4" r="12.75" fill="#f56a78" stroke="#ffffff" stroke-width="3"/>
<text x="2592.6" y="1275.2" font-size="13.8" text-anchor="middle" fill="#ffffff" textLength="18.4" lengthAdjust="spacingAndGlyphs">33</text>
<circle cx="2608.5" cy="1198.4" r="12.75" fill="#f56a78" stroke="#ffffff" stroke-width="3"/>
<text x="2608.5" y="1203.2" font-size="13.8" text-anchor="middle" fill="#ffffff" textLength="18.4" lengthAdjust="spacingAndGlyphs">34</text>
<circle cx="2558.9" cy="1219.6" r="12.75" fill="#f56a78" stroke="#ffffff" stroke-width="3"/>
<text x="2558.9" y="1224.4" font-size="13.8" text-anchor="middle" fill="#ffffff" textLength="18.4" lengthAdjust="spacingAndGlyphs">35</text>
<circle cx="2530.0" cy="1158.8" r="12.75" fill="#f56a78" stroke="#ffffff" stroke-width="3"/>
<text x="2530.0" y="1163.6" font-size="13.8" text-anchor="middle" fill="#ffffff" textLength="18.4" lengthAdjust="spacingAndGlyphs">36</text>
<circle cx="2578.4" cy="1137.0" r="12.75" fill="#f56a78" stroke="#ffffff" stroke-width="3"/>
<text x="2578.4" y="1141.8" font-size="13.8" text-anchor="middle" fill="#ffffff" textLength="18.4" lengthAdjust="spacingAndGlyphs">37</text>
<circle cx="2624.4" cy="1161.2" r="12.75" fill="#f56a78" stroke="#ffffff" stroke-width="3"/>
<text x="2624.4" y="1166.0" font-size="13.8" text-anchor="middle" fill="#ffffff" textLength="18.4" lengthAdjust="spacingAndGlyphs">38</text>
<circle cx="2642.1" cy="1183.0" r="12.75" fill="#f56a78" stroke="#ffffff" stroke-width="3"/>
<text x="2642.1" y="1187.8" font-size="13.8" text-anchor="middle" fill="#ffffff" textLength="18.4" lengthAdjust="spacingAndGlyphs">39</text>
<circle cx="2592.6" cy="1107.5" r="12.75" fill="#f56a78" stroke="#ffffff" stroke-width="3"/>
<text x="2592.6" y="1112.3" font-size="13.8" text-anchor="middle" fill="#ffffff" textLength="18.4" lengthAdjust="spacingAndGlyphs">40</text>
<circle cx="2625.6" cy="1221.4" r="12.75" fill="#f56a78" stroke="#ffffff" stroke-width="3"/>
<text x="2625.6" y="1226.2" font-size="13.8" text-anchor="middle" fill="#ffffff" textLength="18.4" lengthAdjust="spacingAndGlyphs">41</text>
<circle cx="2547.7" cy="1131.7" r="12.75" fill="#f56a78" stroke="#ffffff" stroke-width="3"/>
<text x="2547.7" y="1136.5" font-size="13.8" text-anchor="middle" fill="#ffffff" textLength="18.4" lengthAdjust="spacingAndGlyphs">42</text>
<circle cx="2495.8" cy="1212.5" r="12.75" fill="#f56a78" stroke="#ffffff" stroke-width="3"/>
<text x="2495.8" y="1217.3" font-size="13.8" text-anchor="middle" fill="#ffffff" textLength="18.4" lengthAdjust="spacingAndGlyphs">43</text>
<circle cx="2612.0" cy="1258.6" r="12.75" fill="#f56a78" stroke="#ffffff" stroke-width="3"/>
<text x="2612.0" y="1263.4" font-size="13.8" text-anchor="middle" fill="#ffffff" textLength="18.4" lengthAdjust="spacingAndGlyphs">44</text>
<circle cx="2643.3" cy="1237.3" r="12.75" fill="#f56a78" stroke="#ffffff" stroke-width="3"/>
<text x="2643.3" y="1242.1" font-size="13.8" text-anchor="middle" fill="#ffffff" textLength="18.4" lengthAdjust="spacingAndGlyphs">45</text>
<circle cx="2540.6" cy="1236.1" r="12.75" fill="#f56a78" stroke="#ffffff" stroke-width="3"/>
<text x="2540.6" y="1240.9" font-size="13.8" text-anchor="middle" fill="#ffffff" textLength="18.4" lengthAdjust="spacingAndGlyphs">46</text>
<circle cx="2561.3" cy="1161.2" r="12.75" fill="#f56a78" stroke="#ffffff" stroke-width="3"/>
<text x="2561.3" y="1166.0" font-size="13.8" text-anchor="middle" fill="#ffffff" textLength="18.4" lengthAdjust="spacingAndGlyphs">47</text>
<circle cx="2545.4" cy="1187.7" r="12.75" fill="#f56a78" stroke="#ffffff" stroke-width="3"/>
<text x="2545.4" y="1192.5" font-size="13.8" text-anchor="middle" fill="#ffffff" textLength="18.4" lengthAdjust="spacingAndGlyphs">48</text>
<circle cx="2573.7" cy="1258.6" r="12.75" fill="#f56a78" stroke="#ffffff" stroke-width="3"/>
<text x="2573.7" y="1263.4" font-size="13.8" text-anchor="middle" fill="#ffffff" textLength="18.4" lengthAdjust="spacingAndGlyphs">49</text>
<circle cx="2660.4" cy="1211.4" r="12.75" fill="#f56a78" stroke="#ffffff" stroke-width="3"/>
<text x="2660.4" y="1216.2" font-size="13.8" text-anchor="middle" fill="#ffffff" textLength="18.4" lengthAdjust="spacingAndGlyphs">50</text>
<circle cx="2512.9" cy="1233.2" r="12.75" fill="#f56a78" stroke="#ffffff" stroke-width="3"/>
<text x="2512.9" y="1238.0" font-size="13.8" text-anchor="middle" fill="#ffffff" textLength="18.4" lengthAdjust="spacingAndGlyphs">51</text>
<circle cx="2576.0" cy="1199.0" r="12.75" fill="#f56a78" stroke="#ffffff" stroke-width="3"/>
<text x="2576.0" y="1203.8" font-size="13.8" text-anchor="middle" fill="#ffffff" textLength="18.4" lengthAdjust="spacingAndGlyphs">52</text>
<circle cx="2592.6" cy="1170.0" r="12.75" fill="#f56a78" stroke="#ffffff" stroke-width="3"/>
<text x="2592.6" y="1174.8" font-size="13.8" text-anchor="middle" fill="#ffffff" textLength="18.4" lengthAdjust="spacingAndGlyphs">53</text>
<circle cx="2592.6" cy="1224.9" r="12.75" fill="#f56a78" stroke="#ffffff" stroke-width="3"/>
<text x="2592.6" y="1229.7" font-size="13.8" text-anchor="middle" fill="#ffffff" textLength="18.4" lengthAdjust="spacingAndGlyphs">54</text>
<circle cx="2607.3" cy="1140.0" r="12.75" fill="#f56a78" stroke="#ffffff" stroke-width="3"/>
<text x="2607.3" y="1144.8" font-size="13.8" text-anchor="middle" fill="#ffffff" textLength="18.4" lengthAdjust="spacingAndGlyphs">55</text>
<circle cx="2679.3" cy="1199.6" r="12.75" fill="#f56a78" stroke="#ffffff" stroke-width="3"/>
<text x="2679.3" y="1204.4" font-size="13.8" text-anchor="middle" fill="#ffffff" textLength="18.4" lengthAdjust="spacingAndGlyphs">56</text>
</g>
<g clip-path="url(#cp7)">
<circle cx="2796.3" cy="819.3" r="12.75" fill="#35917a" stroke="#da291c" stroke-width="3"/>
<text x="2796.3" y="824.1" font-size="13.8" text-anchor="middle" fill="#ffffff" textLength="9.4" lengthAdjust="spacingAndGlyphs">2</text>
<circle cx="2775.7" cy="823.8" r="12.75" fill="#35917a" stroke="#da291c" stroke-width="3"/>
<text x="2775.7" y="828.6" font-size="13.8" text-anchor="middle" fill="#ffffff" textLength="9.4" lengthAdjust="spacingAndGlyphs">3</text>
<circle cx="2775.7" cy="774.2" r="12.75" fill="#35917a" stroke="#da291c" stroke-width="3"/>
<text x="2775.7" y="779.0" font-size="13.8" text-anchor="middle" fill="#ffffff" textLength="9.4" lengthAdjust="spacingAndGlyphs">4</text>
<circle cx="2775.7" cy="689.8" r="12.75" fill="#35917a" stroke="#da291c" stroke-width="3"/>
<text x="2775.7" y="694.6" font-size="13.8" text-anchor="middle" fill="#ffffff" textLength="9.4" lengthAdjust="spacingAndGlyphs">5</text>
<circle cx="2755.0" cy="631.2" r="12.75" fill="#35917a" stroke="#da291c" stroke-width="3"/>
<text x="2755.0" y="636.0" font-size="13.8" text-anchor="middle" fill="#ffffff" textLength="9.4" lengthAdjust="spacingAndGlyphs">6</text>
<circle cx="2775.7" cy="634.4" r="12.75" fill="#35917a" stroke="#da291c" stroke-width="3"/>
<text x="2775.7" y="639.2" font-size="13.8" text-anchor="middle" fill="#ffffff" textLength="9.4" lengthAdjust="spacingAndGlyphs">7</text>
<circle cx="2794.3" cy="673.1" r="12.75" fill="#35917a" stroke="#da291c" stroke-width="3"/>
<text x="2794.3" y="677.9" font-size="13.8" text-anchor="middle" fill="#ffffff" textLength="9.4" lengthAdjust="spacingAndGlyphs">8</text>
<circle cx="2840.1" cy="1026.6" r="12.75" fill="#35917a" stroke="#fcd22a" stroke-width="3"/>
<text x="2840.1" y="1031.4" font-size="13.8" text-anchor="middle" fill="#ffffff" textLength="18.4" lengthAdjust="spacingAndGlyphs">11</text>
<circle cx="2840.1" cy="882.4" r="12.75" fill="#35917a" stroke="#fcd22a" stroke-width="3"/>
<text x="2840.1" y="887.2" font-size="13.8" text-anchor="middle" fill="#ffffff" textLength="18.4" lengthAdjust="spacingAndGlyphs">12</text>
<circle cx="2850.4" cy="988.6" r="12.75" fill="#35917a" stroke="#fcd22a" stroke-width="3"/>
<text x="2850.4" y="993.4" font-size="13.8" text-anchor="middle" fill="#ffffff" textLength="18.4" lengthAdjust="spacingAndGlyphs">13</text>
<circle cx="2857.4" cy="919.1" r="12.75" fill="#35917a" stroke="#fcd22a" stroke-width="3"/>
<text x="2857.4" y="923.9" font-size="13.8" text-anchor="middle" fill="#ffffff" textLength="18.4" lengthAdjust="spacingAndGlyphs">14</text>
<circle cx="2829.7" cy="988.6" r="12.75" fill="#35917a" stroke="#fcd22a" stroke-width="3"/>
<text x="2829.7" y="993.4" font-size="13.8" text-anchor="middle" fill="#ffffff" textLength="18.4" lengthAdjust="spacingAndGlyphs">15</text>
<circle cx="2822.7" cy="920.4" r="12.75" fill="#35917a" stroke="#fcd22a" stroke-width="3"/>
<text x="2822.7" y="925.2" font-size="13.8" text-anchor="middle" fill="#ffffff" textLength="18.4" lengthAdjust="spacingAndGlyphs">16</text>
<circle cx="2840.1" cy="939.7" r="12.75" fill="#35917a" stroke="#fcd22a" stroke-width="3"/>
<text x="2840.1" y="944.5" font-size="13.8" text-anchor="middle" fill="#ffffff" textLength="18.4" lengthAdjust="spacingAndGlyphs">17</text>
<circle cx="2858.1" cy="797.4" r="12.75" fill="#35917a" stroke="#fcd22a" stroke-width="3"/>
<text x="2858.1" y="802.2" font-size="13.8" text-anchor="middle" fill="#ffffff" textLength="18.4" lengthAdjust="spacingAndGlyphs">18</text>
<circle cx="2840.1" cy="817.3" r="12.75" fill="#35917a" stroke="#fcd22a" stroke-width="3"/>
<text x="2840.1" y="822.1" font-size="13.8" text-anchor="middle" fill="#ffffff" textLength="18.4" lengthAdjust="spacingAndGlyphs">19</text>
<circle cx="2905.1" cy="986.1" r="12.75" fill="#35917a" stroke="#fcd22a" stroke-width="3"/>
<text x="2905.1" y="990.9" font-size="13.8" text-anchor="middle" fill="#ffffff" textLength="18.4" lengthAdjust="spacingAndGlyphs">32</text>
<circle cx="2905.1" cy="844.4" r="12.75" fill="#35917a" stroke="#fcd22a" stroke-width="3"/>
<text x="2905.1" y="849.2" font-size="13.8" text-anchor="middle" fill="#ffffff" textLength="18.4" lengthAdjust="spacingAndGlyphs">33</text>
<circle cx="2905.1" cy="692.4" r="12.75" fill="#35917a" stroke="#fcd22a" stroke-width="3"/>
<text x="2905.1" y="697.2" font-size="13.8" text-anchor="middle" fill="#ffffff" textLength="18.4" lengthAdjust="spacingAndGlyphs">34</text>
<circle cx="2969.5" cy="1389.2" r="12.75" fill="#35917a" stroke="#ffffff" stroke-width="3"/>
<text x="2969.5" y="1394.0" font-size="13.8" text-anchor="middle" fill="#ffffff" textLength="18.4" lengthAdjust="spacingAndGlyphs">37</text>
<circle cx="2989.5" cy="1389.2" r="12.75" fill="#35917a" stroke="#ffffff" stroke-width="3"/>
<text x="2989.5" y="1394.0" font-size="13.8" text-anchor="middle" fill="#ffffff" textLength="18.4" lengthAdjust="spacingAndGlyphs">38</text>
<circle cx="2978.5" cy="1351.2" r="12.75" fill="#35917a" stroke="#ffffff" stroke-width="3"/>
<text x="2978.5" y="1356.0" font-size="13.8" text-anchor="middle" fill="#ffffff" textLength="18.4" lengthAdjust="spacingAndGlyphs">39</text>
<circle cx="2969.5" cy="1299.0" r="12.75" fill="#35917a" stroke="#ffffff" stroke-width="3"/>
<text x="2969.5" y="1303.8" font-size="13.8" text-anchor="middle" fill="#ffffff" textLength="18.4" lengthAdjust="spacingAndGlyphs">40</text>
<circle cx="2969.5" cy="1250.7" r="12.75" fill="#35917a" stroke="#ffffff" stroke-width="3"/>
<text x="2969.5" y="1255.5" font-size="13.8" text-anchor="middle" fill="#ffffff" textLength="18.4" lengthAdjust="spacingAndGlyphs">41</text>
<circle cx="2989.5" cy="1288.7" r="12.75" fill="#35917a" stroke="#ffffff" stroke-width="3"/>
<text x="2989.5" y="1293.5" font-size="13.8" text-anchor="middle" fill="#ffffff" textLength="18.4" lengthAdjust="spacingAndGlyphs">42</text>
<circle cx="2936.0" cy="1210.8" r="12.75" fill="#35917a" stroke="#ffffff" stroke-width="3"/>
<text x="2936.0" y="1215.6" font-size="13.8" text-anchor="middle" fill="#ffffff" textLength="18.4" lengthAdjust="spacingAndGlyphs">43</text>
<circle cx="2974.0" cy="1209.5" r="12.75" fill="#35917a" stroke="#ffffff" stroke-width="3"/>
<text x="2974.0" y="1214.3" font-size="13.8" text-anchor="middle" fill="#ffffff" textLength="18.4" lengthAdjust="spacingAndGlyphs">44</text>
<circle cx="2954.7" cy="1222.4" r="12.75" fill="#35917a" stroke="#ffffff" stroke-width="3"/>
<text x="2954.7" y="1227.2" font-size="13.8" text-anchor="middle" fill="#ffffff" textLength="18.4" lengthAdjust="spacingAndGlyphs">45</text>
<circle cx="2983.0" cy="1134.2" r="12.75" fill="#35917a" stroke="#ffffff" stroke-width="3"/>
<text x="2983.0" y="1139.0" font-size="13.8" text-anchor="middle" fill="#ffffff" textLength="18.4" lengthAdjust="spacingAndGlyphs">46</text>
<circle cx="2936.0" cy="1150.3" r="12.75" fill="#35917a" stroke="#ffffff" stroke-width="3"/>
<text x="2936.0" y="1155.1" font-size="13.8" text-anchor="middle" fill="#ffffff" textLength="18.4" lengthAdjust="spacingAndGlyphs">47</text>
<circle cx="2994.0" cy="1221.1" r="12.75" fill="#35917a" stroke="#ffffff" stroke-width="3"/>
<text x="2994.0" y="1225.9" font-size="13.8" text-anchor="middle" fill="#ffffff" textLength="18.4" lengthAdjust="spacingAndGlyphs">48</text>
<circle cx="2969.5" cy="1167.0" r="12.75" fill="#35917a" stroke="#ffffff" stroke-width="3"/>
<text x="2969.5" y="1171.8" font-size="13.8" text-anchor="middle" fill="#ffffff" textLength="18.4" lengthAdjust="spacingAndGlyphs">49</text>
<circle cx="2997.2" cy="1163.8" r="12.75" fill="#35917a" stroke="#ffffff" stroke-width="3"/>
<text x="2997.2" y="1168.6" font-size="13.8" text-anchor="middle" fill="#ffffff" textLength="18.4" lengthAdjust="spacingAndGlyphs">50</text>
<circle cx="2954.7" cy="1138.7" r="12.75" fill="#35917a" stroke="#ffffff" stroke-width="3"/>
<text x="2954.7" y="1143.5" font-size="13.8" text-anchor="middle" fill="#ffffff" textLength="18.4" lengthAdjust="spacingAndGlyphs">51</text>
<circle cx="2969.5" cy="1084.6" r="12.75" fill="#35917a" stroke="#ffffff" stroke-width="3"/>
<text x="2969.5" y="1089.4" font-size="13.8" text-anchor="middle" fill="#ffffff" textLength="18.4" lengthAdjust="spacingAndGlyphs">52</text>
<circle cx="2969.5" cy="1002.8" r="12.75" fill="#35917a" stroke="#ffffff" stroke-width="3"/>
<text x="2969.5" y="1007.6" font-size="13.8" text-anchor="middle" fill="#ffffff" textLength="18.4" lengthAdjust="spacingAndGlyphs">53</text>
<circle cx="2981.7" cy="969.3" r="12.75" fill="#35917a" stroke="#ffffff" stroke-width="3"/>
<text x="2981.7" y="974.1" font-size="13.8" text-anchor="middle" fill="#ffffff" textLength="18.4" lengthAdjust="spacingAndGlyphs">54</text>
<circle cx="2983.7" cy="1053.7" r="12.75" fill="#35917a" stroke="#ffffff" stroke-width="3"/>
<text x="2983.7" y="1058.5" font-size="13.8" text-anchor="middle" fill="#ffffff" textLength="18.4" lengthAdjust="spacingAndGlyphs">55</text>
<circle cx="2951.5" cy="982.2" r="12.75" fill="#35917a" stroke="#ffffff" stroke-width="3"/>
<text x="2951.5" y="987.0" font-size="13.8" text-anchor="middle" fill="#ffffff" textLength="18.4" lengthAdjust="spacingAndGlyphs">56</text>
</g>
<g clip-path="url(#cp8)">
<circle cx="3120.2" cy="651.2" r="12.75" fill="#55aeea" stroke="#fcd22a" stroke-width="3"/>
<text x="3120.2" y="656.0" font-size="13.8" text-anchor="middle" fill="#0a1428" textLength="9.4" lengthAdjust="spacingAndGlyphs">2</text>
<circle cx="3133.2" cy="684.0" r="12.75" fill="#55aeea" stroke="#fcd22a" stroke-width="3"/>
<text x="3133.2" y="688.8" font-size="13.8" text-anchor="middle" fill="#0a1428" textLength="9.4" lengthAdjust="spacingAndGlyphs">3</text>
<circle cx="3120.2" cy="716.7" r="12.75" fill="#55aeea" stroke="#fcd22a" stroke-width="3"/>
<text x="3120.2" y="721.5" font-size="13.8" text-anchor="middle" fill="#0a1428" textLength="9.4" lengthAdjust="spacingAndGlyphs">4</text>
<circle cx="3137.0" cy="577.4" r="12.75" fill="#55aeea" stroke="#fcd22a" stroke-width="3"/>
<text x="3137.0" y="582.2" font-size="13.8" text-anchor="middle" fill="#0a1428" textLength="9.4" lengthAdjust="spacingAndGlyphs">5</text>
<circle cx="3086.8" cy="588.8" r="12.75" fill="#55aeea" stroke="#fcd22a" stroke-width="3"/>
<text x="3086.8" y="593.6" font-size="13.8" text-anchor="middle" fill="#0a1428" textLength="9.4" lengthAdjust="spacingAndGlyphs">6</text>
<circle cx="3102.0" cy="617.0" r="12.75" fill="#55aeea" stroke="#fcd22a" stroke-width="3"/>
<text x="3102.0" y="621.8" font-size="13.8" text-anchor="middle" fill="#0a1428" textLength="9.4" lengthAdjust="spacingAndGlyphs">7</text>
<circle cx="3130.9" cy="514.2" r="12.75" fill="#55aeea" stroke="#fcd22a" stroke-width="3"/>
<text x="3130.9" y="519.0" font-size="13.8" text-anchor="middle" fill="#0a1428" textLength="9.4" lengthAdjust="spacingAndGlyphs">8</text>
<circle cx="3120.2" cy="550.0" r="12.75" fill="#55aeea" stroke="#fcd22a" stroke-width="3"/>
<text x="3120.2" y="554.8" font-size="13.8" text-anchor="middle" fill="#0a1428" textLength="9.4" lengthAdjust="spacingAndGlyphs">9</text>
<circle cx="3120.2" cy="600.3" r="12.75" fill="#55aeea" stroke="#fcd22a" stroke-width="3"/>
<text x="3120.2" y="605.1" font-size="13.8" text-anchor="middle" fill="#0a1428" textLength="18.4" lengthAdjust="spacingAndGlyphs">10</text>
<circle cx="3184.9" cy="1068.3" r="12.75" fill="#55aeea" stroke="#ffffff" stroke-width="3"/>
<text x="3184.9" y="1073.1" font-size="13.8" text-anchor="middle" fill="#0a1428" textLength="18.4" lengthAdjust="spacingAndGlyphs">13</text>
<circle cx="3165.9" cy="905.5" r="12.75" fill="#55aeea" stroke="#ffffff" stroke-width="3"/>
<text x="3165.9" y="910.3" font-size="13.8" text-anchor="middle" fill="#0a1428" textLength="18.4" lengthAdjust="spacingAndGlyphs">14</text>
<circle cx="3184.9" cy="948.1" r="12.75" fill="#55aeea" stroke="#ffffff" stroke-width="3"/>
<text x="3184.9" y="952.9" font-size="13.8" text-anchor="middle" fill="#0a1428" textLength="18.4" lengthAdjust="spacingAndGlyphs">15</text>
<circle cx="3170.5" cy="863.6" r="12.75" fill="#55aeea" stroke="#ffffff" stroke-width="3"/>
<text x="3170.5" y="868.4" font-size="13.8" text-anchor="middle" fill="#0a1428" textLength="18.4" lengthAdjust="spacingAndGlyphs">16</text>
<circle cx="3184.9" cy="893.3" r="12.75" fill="#55aeea" stroke="#ffffff" stroke-width="3"/>
<text x="3184.9" y="898.1" font-size="13.8" text-anchor="middle" fill="#0a1428" textLength="18.4" lengthAdjust="spacingAndGlyphs">17</text>
<circle cx="3200.2" cy="921.4" r="12.75" fill="#55aeea" stroke="#ffffff" stroke-width="3"/>
<text x="3200.2" y="926.2" font-size="13.8" text-anchor="middle" fill="#0a1428" textLength="18.4" lengthAdjust="spacingAndGlyphs">18</text>
<circle cx="3195.6" cy="857.5" r="12.75" fill="#55aeea" stroke="#ffffff" stroke-width="3"/>
<text x="3195.6" y="862.3" font-size="13.8" text-anchor="middle" fill="#0a1428" textLength="18.4" lengthAdjust="spacingAndGlyphs">19</text>
<circle cx="3249.6" cy="907.0" r="12.75" fill="#55aeea" stroke="#ffffff" stroke-width="3"/>
<text x="3249.6" y="911.8" font-size="13.8" text-anchor="middle" fill="#0a1428" textLength="18.4" lengthAdjust="spacingAndGlyphs">32</text>
<circle cx="3262.6" cy="875.0" r="12.75" fill="#55aeea" stroke="#ffffff" stroke-width="3"/>
<text x="3262.6" y="879.8" font-size="13.8" text-anchor="middle" fill="#0a1428" textLength="18.4" lengthAdjust="spacingAndGlyphs">33</text>
<circle cx="3253.4" cy="979.3" r="12.75" fill="#55aeea" stroke="#ffffff" stroke-width="3"/>
<text x="3253.4" y="984.1" font-size="13.8" text-anchor="middle" fill="#0a1428" textLength="18.4" lengthAdjust="spacingAndGlyphs">34</text>
<circle cx="3270.2" cy="1066.8" r="12.75" fill="#55aeea" stroke="#ffffff" stroke-width="3"/>
<text x="3270.2" y="1071.6" font-size="13.8" text-anchor="middle" fill="#0a1428" textLength="18.4" lengthAdjust="spacingAndGlyphs">35</text>
<circle cx="3249.6" cy="1021.1" r="12.75" fill="#55aeea" stroke="#ffffff" stroke-width="3"/>
<text x="3249.6" y="1025.9" font-size="13.8" text-anchor="middle" fill="#0a1428" textLength="18.4" lengthAdjust="spacingAndGlyphs">36</text>
<circle cx="3249.6" cy="1068.3" r="12.75" fill="#55aeea" stroke="#ffffff" stroke-width="3"/>
<text x="3249.6" y="1073.1" font-size="13.8" text-anchor="middle" fill="#0a1428" textLength="18.4" lengthAdjust="spacingAndGlyphs">37</text>
<circle cx="3314.3" cy="1439.0" r="12.75" fill="#55aeea" stroke="#fcd22a" stroke-width="3"/>
<text x="3314.3" y="1443.8" font-size="13.8" text-anchor="middle" fill="#0a1428" textLength="18.4" lengthAdjust="spacingAndGlyphs">40</text>
<circle cx="3314.3" cy="1328.6" r="12.75" fill="#55aeea" stroke="#fcd22a" stroke-width="3"/>
<text x="3314.3" y="1333.4" font-size="13.8" text-anchor="middle" fill="#0a1428" textLength="18.4" lengthAdjust="spacingAndGlyphs">41</text>
<circle cx="3314.3" cy="1276.1" r="12.75" fill="#55aeea" stroke="#fcd22a" stroke-width="3"/>
<text x="3314.3" y="1280.9" font-size="13.8" text-anchor="middle" fill="#0a1428" textLength="18.4" lengthAdjust="spacingAndGlyphs">42</text>
<circle cx="3349.3" cy="1275.3" r="12.75" fill="#55aeea" stroke="#fcd22a" stroke-width="3"/>
<text x="3349.3" y="1280.1" font-size="13.8" text-anchor="middle" fill="#0a1428" textLength="18.4" lengthAdjust="spacingAndGlyphs">43</text>
<circle cx="3331.1" cy="1299.7" r="12.75" fill="#55aeea" stroke="#fcd22a" stroke-width="3"/>
<text x="3331.1" y="1304.5" font-size="13.8" text-anchor="middle" fill="#0a1428" textLength="18.4" lengthAdjust="spacingAndGlyphs">44</text>
<circle cx="3294.5" cy="1267.7" r="12.75" fill="#55aeea" stroke="#fcd22a" stroke-width="3"/>
<text x="3294.5" y="1272.5" font-size="13.8" text-anchor="middle" fill="#0a1428" textLength="18.4" lengthAdjust="spacingAndGlyphs">45</text>
<circle cx="3314.3" cy="1231.2" r="12.75" fill="#55aeea" stroke="#fcd22a" stroke-width="3"/>
<text x="3314.3" y="1236.0" font-size="13.8" text-anchor="middle" fill="#0a1428" textLength="18.4" lengthAdjust="spacingAndGlyphs">46</text>
<circle cx="3332.6" cy="1202.3" r="12.75" fill="#55aeea" stroke="#fcd22a" stroke-width="3"/>
<text x="3332.6" y="1207.1" font-size="13.8" text-anchor="middle" fill="#0a1428" textLength="18.4" lengthAdjust="spacingAndGlyphs">47</text>
<circle cx="3325.7" cy="973.9" r="12.75" fill="#55aeea" stroke="#fcd22a" stroke-width="3"/>
<text x="3325.7" y="978.7" font-size="13.8" text-anchor="middle" fill="#0a1428" textLength="18.4" lengthAdjust="spacingAndGlyphs">48</text>
<circle cx="3294.5" cy="1219.8" r="12.75" fill="#55aeea" stroke="#fcd22a" stroke-width="3"/>
<text x="3294.5" y="1224.6" font-size="13.8" text-anchor="middle" fill="#0a1428" textLength="18.4" lengthAdjust="spacingAndGlyphs">49</text>
<circle cx="3331.1" cy="1253.3" r="12.75" fill="#55aeea" stroke="#fcd22a" stroke-width="3"/>
<text x="3331.1" y="1258.1" font-size="13.8" text-anchor="middle" fill="#0a1428" textLength="18.4" lengthAdjust="spacingAndGlyphs">50</text>
<circle cx="3314.3" cy="1182.5" r="12.75" fill="#55aeea" stroke="#fcd22a" stroke-width="3"/>
<text x="3314.3" y="1187.3" font-size="13.8" text-anchor="middle" fill="#0a1428" textLength="18.4" lengthAdjust="spacingAndGlyphs">51</text>
<circle cx="3314.3" cy="1072.1" r="12.75" fill="#55aeea" stroke="#fcd22a" stroke-width="3"/>
<text x="3314.3" y="1076.9" font-size="13.8" text-anchor="middle" fill="#0a1428" textLength="18.4" lengthAdjust="spacingAndGlyphs">52</text>
<circle cx="3314.3" cy="1009.0" r="12.75" fill="#55aeea" stroke="#fcd22a" stroke-width="3"/>
<text x="3314.3" y="1013.8" font-size="13.8" text-anchor="middle" fill="#0a1428" textLength="18.4" lengthAdjust="spacingAndGlyphs">53</text>
<circle cx="3314.3" cy="1136.1" r="12.75" fill="#55aeea" stroke="#fcd22a" stroke-width="3"/>
<text x="3314.3" y="1140.9" font-size="13.8" text-anchor="middle" fill="#0a1428" textLength="18.4" lengthAdjust="spacingAndGlyphs">54</text>
<circle cx="3294.5" cy="1134.5" r="12.75" fill="#55aeea" stroke="#fcd22a" stroke-width="3"/>
<text x="3294.5" y="1139.3" font-size="13.8" text-anchor="middle" fill="#0a1428" textLength="18.4" lengthAdjust="spacingAndGlyphs">55</text>
<circle cx="3332.6" cy="1119.3" r="12.75" fill="#55aeea" stroke="#fcd22a" stroke-width="3"/>
<text x="3332.6" y="1124.1" font-size="13.8" text-anchor="middle" fill="#0a1428" textLength="18.4" lengthAdjust="spacingAndGlyphs">56</text>
</g>
<g clip-path="url(#cp9)">
<circle cx="3476.2" cy="962.2" r="12.75" fill="#f5821f" stroke="#fcd22a" stroke-width="3"/>
<text x="3476.2" y="967.0" font-size="13.8" text-anchor="middle" fill="#1a0a00" textLength="9.4" lengthAdjust="spacingAndGlyphs">2</text>
<circle cx="3490.5" cy="933.0" r="12.75" fill="#f5821f" stroke="#fcd22a" stroke-width="3"/>
<text x="3490.5" y="937.8" font-size="13.8" text-anchor="middle" fill="#1a0a00" textLength="9.4" lengthAdjust="spacingAndGlyphs">3</text>
<circle cx="3455.7" cy="835.0" r="12.75" fill="#f5821f" stroke="#fcd22a" stroke-width="3"/>
<text x="3455.7" y="839.8" font-size="13.8" text-anchor="middle" fill="#1a0a00" textLength="9.4" lengthAdjust="spacingAndGlyphs">4</text>
<circle cx="3476.2" cy="839.3" r="12.75" fill="#f5821f" stroke="#fcd22a" stroke-width="3"/>
<text x="3476.2" y="844.1" font-size="13.8" text-anchor="middle" fill="#1a0a00" textLength="9.4" lengthAdjust="spacingAndGlyphs">5</text>
<circle cx="3476.2" cy="763.6" r="12.75" fill="#f5821f" stroke="#fcd22a" stroke-width="3"/>
<text x="3476.2" y="768.4" font-size="13.8" text-anchor="middle" fill="#1a0a00" textLength="9.4" lengthAdjust="spacingAndGlyphs">6</text>
<circle cx="3490.5" cy="810.1" r="12.75" fill="#f5821f" stroke="#fcd22a" stroke-width="3"/>
<text x="3490.5" y="814.9" font-size="13.8" text-anchor="middle" fill="#1a0a00" textLength="9.4" lengthAdjust="spacingAndGlyphs">7</text>
<circle cx="3515.3" cy="759.9" r="12.75" fill="#f5821f" stroke="#fcd22a" stroke-width="3"/>
<text x="3515.3" y="764.7" font-size="13.8" text-anchor="middle" fill="#1a0a00" textLength="9.4" lengthAdjust="spacingAndGlyphs">8</text>
<circle cx="3493.6" cy="691.0" r="12.75" fill="#f5821f" stroke="#fcd22a" stroke-width="3"/>
<text x="3493.6" y="695.8" font-size="13.8" text-anchor="middle" fill="#1a0a00" textLength="9.4" lengthAdjust="spacingAndGlyphs">9</text>
<circle cx="3495.4" cy="754.3" r="12.75" fill="#f5821f" stroke="#fcd22a" stroke-width="3"/>
<text x="3495.4" y="759.1" font-size="13.8" text-anchor="middle" fill="#1a0a00" textLength="18.4" lengthAdjust="spacingAndGlyphs">10</text>
<circle cx="3476.2" cy="596.0" r="12.75" fill="#f5821f" stroke="#fcd22a" stroke-width="3"/>
<text x="3476.2" y="600.8" font-size="13.8" text-anchor="middle" fill="#1a0a00" textLength="18.4" lengthAdjust="spacingAndGlyphs">11</text>
<circle cx="3458.8" cy="691.0" r="12.75" fill="#f5821f" stroke="#fcd22a" stroke-width="3"/>
<text x="3458.8" y="695.8" font-size="13.8" text-anchor="middle" fill="#1a0a00" textLength="18.4" lengthAdjust="spacingAndGlyphs">12</text>
<circle cx="3476.2" cy="711.4" r="12.75" fill="#f5821f" stroke="#fcd22a" stroke-width="3"/>
<text x="3476.2" y="716.2" font-size="13.8" text-anchor="middle" fill="#1a0a00" textLength="18.4" lengthAdjust="spacingAndGlyphs">13</text>
<circle cx="3476.2" cy="658.7" r="12.75" fill="#f5821f" stroke="#fcd22a" stroke-width="3"/>
<text x="3476.2" y="663.5" font-size="13.8" text-anchor="middle" fill="#1a0a00" textLength="18.4" lengthAdjust="spacingAndGlyphs">14</text>
<circle cx="3455.7" cy="756.8" r="12.75" fill="#f5821f" stroke="#fcd22a" stroke-width="3"/>
<text x="3455.7" y="761.6" font-size="13.8" text-anchor="middle" fill="#1a0a00" textLength="18.4" lengthAdjust="spacingAndGlyphs">15</text>
<circle cx="3561.9" cy="1331.5" r="12.75" fill="#f5821f" stroke="#fcd22a" stroke-width="3"/>
<text x="3561.9" y="1336.3" font-size="13.8" text-anchor="middle" fill="#1a0a00" textLength="18.4" lengthAdjust="spacingAndGlyphs">18</text>
<circle cx="3561.9" cy="1154.6" r="12.75" fill="#f5821f" stroke="#fcd22a" stroke-width="3"/>
<text x="3561.9" y="1159.4" font-size="13.8" text-anchor="middle" fill="#1a0a00" textLength="18.4" lengthAdjust="spacingAndGlyphs">19</text>
<circle cx="3628.9" cy="1078.3" r="12.75" fill="#f5821f" stroke="#ffffff" stroke-width="3"/>
<text x="3628.9" y="1083.1" font-size="13.8" text-anchor="middle" fill="#1a0a00" textLength="18.4" lengthAdjust="spacingAndGlyphs">32</text>
<circle cx="3648.1" cy="1136.0" r="12.75" fill="#f5821f" stroke="#ffffff" stroke-width="3"/>
<text x="3648.1" y="1140.8" font-size="13.8" text-anchor="middle" fill="#1a0a00" textLength="18.4" lengthAdjust="spacingAndGlyphs">33</text>
<circle cx="3628.3" cy="1131.7" r="12.75" fill="#f5821f" stroke="#ffffff" stroke-width="3"/>
<text x="3628.3" y="1136.5" font-size="13.8" text-anchor="middle" fill="#1a0a00" textLength="18.4" lengthAdjust="spacingAndGlyphs">34</text>
<circle cx="3648.1" cy="1201.2" r="12.75" fill="#f5821f" stroke="#ffffff" stroke-width="3"/>
<text x="3648.1" y="1206.0" font-size="13.8" text-anchor="middle" fill="#1a0a00" textLength="18.4" lengthAdjust="spacingAndGlyphs">35</text>
<circle cx="3568.1" cy="983.3" r="12.75" fill="#f5821f" stroke="#ffffff" stroke-width="3"/>
<text x="3568.1" y="988.1" font-size="13.8" text-anchor="middle" fill="#1a0a00" textLength="18.4" lengthAdjust="spacingAndGlyphs">36</text>
<circle cx="3662.4" cy="992.6" r="12.75" fill="#f5821f" stroke="#ffffff" stroke-width="3"/>
<text x="3662.4" y="997.4" font-size="13.8" text-anchor="middle" fill="#1a0a00" textLength="18.4" lengthAdjust="spacingAndGlyphs">37</text>
<circle cx="3648.1" cy="1092.6" r="12.75" fill="#f5821f" stroke="#ffffff" stroke-width="3"/>
<text x="3648.1" y="1097.4" font-size="13.8" text-anchor="middle" fill="#1a0a00" textLength="18.4" lengthAdjust="spacingAndGlyphs">38</text>
<circle cx="3684.8" cy="983.9" r="12.75" fill="#f5821f" stroke="#ffffff" stroke-width="3"/>
<text x="3684.8" y="988.7" font-size="13.8" text-anchor="middle" fill="#1a0a00" textLength="18.4" lengthAdjust="spacingAndGlyphs">39</text>
<circle cx="3659.9" cy="1058.4" r="12.75" fill="#f5821f" stroke="#ffffff" stroke-width="3"/>
<text x="3659.9" y="1063.2" font-size="13.8" text-anchor="middle" fill="#1a0a00" textLength="18.4" lengthAdjust="spacingAndGlyphs">40</text>
<circle cx="3622.1" cy="959.7" r="12.75" fill="#f5821f" stroke="#ffffff" stroke-width="3"/>
<text x="3622.1" y="964.5" font-size="13.8" text-anchor="middle" fill="#1a0a00" textLength="18.4" lengthAdjust="spacingAndGlyphs">41</text>
<circle cx="3682.9" cy="1080.1" r="12.75" fill="#f5821f" stroke="#ffffff" stroke-width="3"/>
<text x="3682.9" y="1084.9" font-size="13.8" text-anchor="middle" fill="#1a0a00" textLength="18.4" lengthAdjust="spacingAndGlyphs">42</text>
<circle cx="3666.8" cy="1106.8" r="12.75" fill="#f5821f" stroke="#ffffff" stroke-width="3"/>
<text x="3666.8" y="1111.6" font-size="13.8" text-anchor="middle" fill="#1a0a00" textLength="18.4" lengthAdjust="spacingAndGlyphs">43</text>
<circle cx="3609.0" cy="1081.4" r="12.75" fill="#f5821f" stroke="#ffffff" stroke-width="3"/>
<text x="3609.0" y="1086.2" font-size="13.8" text-anchor="middle" fill="#1a0a00" textLength="18.4" lengthAdjust="spacingAndGlyphs">44</text>
<circle cx="3619.6" cy="1022.4" r="12.75" fill="#f5821f" stroke="#ffffff" stroke-width="3"/>
<text x="3619.6" y="1027.2" font-size="13.8" text-anchor="middle" fill="#1a0a00" textLength="18.4" lengthAdjust="spacingAndGlyphs">45</text>
<circle cx="3648.1" cy="1023.7" r="12.75" fill="#f5821f" stroke="#ffffff" stroke-width="3"/>
<text x="3648.1" y="1028.5" font-size="13.8" text-anchor="middle" fill="#1a0a00" textLength="18.4" lengthAdjust="spacingAndGlyphs">46</text>
<circle cx="3633.9" cy="992.6" r="12.75" fill="#f5821f" stroke="#ffffff" stroke-width="3"/>
<text x="3633.9" y="997.4" font-size="13.8" text-anchor="middle" fill="#1a0a00" textLength="18.4" lengthAdjust="spacingAndGlyphs">47</text>
<circle cx="3587.3" cy="996.3" r="12.75" fill="#f5821f" stroke="#ffffff" stroke-width="3"/>
<text x="3587.3" y="1001.1" font-size="13.8" text-anchor="middle" fill="#1a0a00" textLength="18.4" lengthAdjust="spacingAndGlyphs">48</text>
<circle cx="3648.1" cy="875.3" r="12.75" fill="#f5821f" stroke="#ffffff" stroke-width="3"/>
<text x="3648.1" y="880.1" font-size="13.8" text-anchor="middle" fill="#1a0a00" textLength="18.4" lengthAdjust="spacingAndGlyphs">49</text>
<circle cx="3676.7" cy="1023.0" r="12.75" fill="#f5821f" stroke="#ffffff" stroke-width="3"/>
<text x="3676.7" y="1027.8" font-size="13.8" text-anchor="middle" fill="#1a0a00" textLength="18.4" lengthAdjust="spacingAndGlyphs">50</text>
<circle cx="3697.8" cy="1016.8" r="12.75" fill="#f5821f" stroke="#ffffff" stroke-width="3"/>
<text x="3697.8" y="1021.6" font-size="13.8" text-anchor="middle" fill="#1a0a00" textLength="18.4" lengthAdjust="spacingAndGlyphs">51</text>
<circle cx="3648.1" cy="963.5" r="12.75" fill="#f5821f" stroke="#ffffff" stroke-width="3"/>
<text x="3648.1" y="968.3" font-size="13.8" text-anchor="middle" fill="#1a0a00" textLength="18.4" lengthAdjust="spacingAndGlyphs">52</text>
<circle cx="3607.2" cy="988.3" r="12.75" fill="#f5821f" stroke="#ffffff" stroke-width="3"/>
<text x="3607.2" y="993.1" font-size="13.8" text-anchor="middle" fill="#1a0a00" textLength="18.4" lengthAdjust="spacingAndGlyphs">53</text>
<circle cx="3670.5" cy="954.1" r="12.75" fill="#f5821f" stroke="#ffffff" stroke-width="3"/>
<text x="3670.5" y="958.9" font-size="13.8" text-anchor="middle" fill="#1a0a00" textLength="18.4" lengthAdjust="spacingAndGlyphs">54</text>
<circle cx="3715.8" cy="992.6" r="12.75" fill="#f5821f" stroke="#ffffff" stroke-width="3"/>
<text x="3715.8" y="997.4" font-size="13.8" text-anchor="middle" fill="#1a0a00" textLength="18.4" lengthAdjust="spacingAndGlyphs">55</text>
<circle cx="3702.1" cy="961.6" r="12.75" fill="#f5821f" stroke="#ffffff" stroke-width="3"/>
<text x="3702.1" y="966.4" font-size="13.8" text-anchor="middle" fill="#1a0a00" textLength="18.4" lengthAdjust="spacingAndGlyphs">56</text>
</g>
<rect x="289.60" y="169.8" width="341.45" height="57.65" fill="#93b1db" stroke="#3671c6" stroke-width="3.2"/>
<rect x="289.60" y="230.65" width="341.45" height="58.15" fill="#93b1db" stroke="#3671c6" stroke-width="3.2"/>
<text x="460.3" y="211.6" font-size="36.8" font-weight="bold" text-anchor="middle" fill="#3d3d3d" textLength="166.3" lengthAdjust="spacingAndGlyphs" >1.39.762</text>
<text x="460.3" y="271.7" font-size="34" font-weight="bold" text-anchor="middle" fill="#3d3d3d" textLength="130.5" lengthAdjust="spacingAndGlyphs" >2 stops</text>
<rect x="634.25" y="169.8" width="341.45" height="57.65" fill="#93b1db" stroke="#3671c6" stroke-width="3.2"/>
<rect x="634.25" y="230.65" width="341.45" height="58.15" fill="#93b1db" stroke="#3671c6" stroke-width="3.2"/>
<text x="805.0" y="211.6" font-size="36.8" font-weight="bold" text-anchor="middle" fill="#3d3d3d" textLength="176.7" lengthAdjust="spacingAndGlyphs" >1.40.436</text>
<text x="805.0" y="271.7" font-size="34" font-weight="bold" text-anchor="middle" fill="#3d3d3d" textLength="130.5" lengthAdjust="spacingAndGlyphs" >2 stops</text>
<rect x="978.90" y="169.8" width="341.45" height="57.65" fill="#f3b888" stroke="#f58020" stroke-width="3.2"/>
<rect x="978.90" y="230.65" width="341.45" height="58.15" fill="#f3b888" stroke="#f58020" stroke-width="3.2"/>
<text x="1149.6" y="211.6" font-size="36.8" font-weight="bold" text-anchor="middle" fill="#3d3d3d" textLength="179" lengthAdjust="spacingAndGlyphs" >1.40.646</text>
<text x="1149.6" y="271.7" font-size="34" font-weight="bold" text-anchor="middle" fill="#3d3d3d" textLength="109.5" lengthAdjust="spacingAndGlyphs" >1 stop</text>
<rect x="1323.55" y="169.8" width="341.45" height="57.65" fill="#93beb3" stroke="#358c75" stroke-width="3.2"/>
<rect x="1323.55" y="230.65" width="341.45" height="58.15" fill="#93beb3" stroke="#358c75" stroke-width="3.2"/>
<text x="1494.3" y="211.6" font-size="36.8" font-weight="bold" text-anchor="middle" fill="#3d3d3d" textLength="174.8" lengthAdjust="spacingAndGlyphs" >1.40.749</text>
<text x="1494.3" y="271.7" font-size="34" font-weight="bold" text-anchor="middle" fill="#3d3d3d" textLength="130.5" lengthAdjust="spacingAndGlyphs" >3 stops</text>
<rect x="1668.20" y="169.8" width="341.45" height="57.65" fill="#f58393" stroke="#f91536" stroke-width="3.2"/>
<rect x="1668.20" y="230.65" width="341.45" height="58.15" fill="#f58393" stroke="#f91536" stroke-width="3.2"/>
<text x="1838.9" y="211.6" font-size="36.8" font-weight="bold" text-anchor="middle" fill="#3d3d3d" textLength="177" lengthAdjust="spacingAndGlyphs" >1.40.954</text>
<text x="1838.9" y="271.7" font-size="34" font-weight="bold" text-anchor="middle" fill="#3d3d3d" textLength="109.5" lengthAdjust="spacingAndGlyphs" >1 stop</text>
<rect x="2012.85" y="169.8" width="341.45" height="57.65" fill="#aee2d8" stroke="#6cd3bf" stroke-width="3.2"/>
<rect x="2012.85" y="230.65" width="341.45" height="58.15" fill="#aee2d8" stroke="#6cd3bf" stroke-width="3.2"/>
<text x="2183.6" y="211.6" font-size="36.8" font-weight="bold" text-anchor="middle" fill="#3d3d3d" textLength="165" lengthAdjust="spacingAndGlyphs" >1.41.168</text>
<text x="2183.6" y="271.7" font-size="34" font-weight="bold" text-anchor="middle" fill="#3d3d3d" textLength="130.5" lengthAdjust="spacingAndGlyphs" >2 stops</text>
<rect x="2357.50" y="169.8" width="341.45" height="57.65" fill="#f58393" stroke="#f91536" stroke-width="3.2"/>
<rect x="2357.50" y="230.65" width="341.45" height="58.15" fill="#f58393" stroke="#f91536" stroke-width="3.2"/>
<text x="2528.2" y="211.6" font-size="36.8" font-weight="bold" text-anchor="middle" fill="#3d3d3d" textLength="163" lengthAdjust="spacingAndGlyphs" >1.41.216</text>
<text x="2528.2" y="271.7" font-size="34" font-weight="bold" text-anchor="middle" fill="#3d3d3d" textLength="109.5" lengthAdjust="spacingAndGlyphs" >1 stop</text>
<rect x="2702.15" y="169.8" width="341.45" height="57.65" fill="#93beb3" stroke="#358c75" stroke-width="3.2"/>
<rect x="2702.15" y="230.65" width="341.45" height="58.15" fill="#93beb3" stroke="#358c75" stroke-width="3.2"/>
<text x="2872.9" y="211.6" font-size="36.8" font-weight="bold" text-anchor="middle" fill="#3d3d3d" textLength="170" lengthAdjust="spacingAndGlyphs" >1.41.346</text>
<text x="2872.9" y="271.7" font-size="34" font-weight="bold" text-anchor="middle" fill="#3d3d3d" textLength="133" lengthAdjust="spacingAndGlyphs" >4 stops</text>
<rect x="3046.80" y="169.8" width="341.45" height="57.65" fill="#89c2e1" stroke="#2293d1" stroke-width="3.2"/>
<rect x="3046.80" y="230.65" width="341.45" height="58.15" fill="#89c2e1" stroke="#2293d1" stroke-width="3.2"/>
<text x="3217.5" y="211.6" font-size="36.8" font-weight="bold" text-anchor="middle" fill="#3d3d3d" textLength="170.5" lengthAdjust="spacingAndGlyphs" >1.41.508</text>
<text x="3217.5" y="271.7" font-size="34" font-weight="bold" text-anchor="middle" fill="#3d3d3d" textLength="130.5" lengthAdjust="spacingAndGlyphs" >3 stops</text>
<rect x="3391.45" y="169.8" width="341.45" height="57.65" fill="#f3b888" stroke="#f58020" stroke-width="3.2"/>
<rect x="3391.45" y="230.65" width="341.45" height="58.15" fill="#f3b888" stroke="#f58020" stroke-width="3.2"/>
<text x="3562.2" y="211.6" font-size="36.8" font-weight="bold" text-anchor="middle" fill="#3d3d3d" textLength="168.6" lengthAdjust="spacingAndGlyphs" >1.41.668</text>
<text x="3562.2" y="271.7" font-size="34" font-weight="bold" text-anchor="middle" fill="#3d3d3d" textLength="130.5" lengthAdjust="spacingAndGlyphs" >2 stops</text>
<text x="270.5" y="302.5" font-size="35" font-weight="normal" text-anchor="end" fill="#3d3d3d" textLength="182.8" lengthAdjust="spacingAndGlyphs" >01:45.000</text>
<text x="270.5" y="500.5" font-size="35" font-weight="normal" text-anchor="end" fill="#3d3d3d" textLength="185.9" lengthAdjust="spacingAndGlyphs" >01:44.000</text>
<text x="270.5" y="698.5" font-size="35" font-weight="normal" text-anchor="end" fill="#3d3d3d" textLength="182.8" lengthAdjust="spacingAndGlyphs" >01:43.000</text>
<text x="270.5" y="896.5" font-size="35" font-weight="normal" text-anchor="end" fill="#3d3d3d" textLength="184.2" lengthAdjust="spacingAndGlyphs" >01:42.000</text>
<text x="270.5" y="1094.5" font-size="35" font-weight="normal" text-anchor="end" fill="#3d3d3d" textLength="180.7" lengthAdjust="spacingAndGlyphs" >01:41.000</text>
<text x="270.5" y="1292.5" font-size="35" font-weight="normal" text-anchor="end" fill="#3d3d3d" textLength="186.2" lengthAdjust="spacingAndGlyphs" >01:40.000</text>
<text x="270.5" y="1490.5" font-size="35" font-weight="normal" text-anchor="end" fill="#3d3d3d" textLength="181.7" lengthAdjust="spacingAndGlyphs" >01:39.000</text>
<text x="270.5" y="1688.5" font-size="35" font-weight="normal" text-anchor="end" fill="#3d3d3d" textLength="181.7" lengthAdjust="spacingAndGlyphs" >01:38.000</text>
<text transform="translate(52,1033) rotate(-90)" x="0" y="0" font-size="42" font-weight="bold" text-anchor="middle" fill="#3d3d3d" textLength="275" lengthAdjust="spacingAndGlyphs">Time per lap</text>
<text x="460.3" y="1817.0" font-size="34" font-weight="bold" text-anchor="middle" fill="#3d3d3d" textLength="74.5" lengthAdjust="spacingAndGlyphs" >VER</text>
<g transform="translate(418.82,1821.9)"><rect width="83" height="73" fill="#16175f"/><clipPath id="rbc"><rect width="83" height="73"/></clipPath><circle cx="-6" cy="36.5" r="32" fill="#fcd700" clip-path="url(#rbc)"/><path d="M3.3,53.1 L7.9,55.4 L13.2,52.5 L19.1,54.5 L22.4,52.5 L26.4,52.5 L29.7,56.4 L37.6,60.4 L43.6,58.4 L42.9,53.8 L38.9,51.2 L44.2,49.8 L54.1,48.5 L57.4,52.5 L64,55.8 L73.9,59.1 L82.5,61.7 L82.5,53.8 L75.9,51.2 L70.6,47.2 L68.6,40.6 L70.6,36.6 L72,36 C66,33 60,30 56,28 C50,25 44,22 38,19 L33,17 L29,17.5 C24,21 19,24 16,28 C13,32 12,37 10.5,42 C9,46 6,50 3.3,53.1 Z" fill="#e61f2f" stroke="#f8b21c" stroke-width="1.1" stroke-linejoin="round"/><path d="M70.6,36.6 C76,35 79,31 77,27 C75,24 71,24 72,21 C73,19 77,18 79,18.5" fill="none" stroke="#f8b21c" stroke-width="3.4" stroke-linecap="round"/><path d="M70.6,36.6 C76,35 79,31 77,27 C75,24 71,24 72,21 C73,19 77,18 79,18.5" fill="none" stroke="#e61f2f" stroke-width="1.8" stroke-linecap="round"/></g>
<text x="805.0" y="1817.0" font-size="34" font-weight="bold" text-anchor="middle" fill="#3d3d3d" textLength="72.8" lengthAdjust="spacingAndGlyphs" >PER</text>
<g transform="translate(763.47,1821.9)"><rect width="83" height="73" fill="#16175f"/><clipPath id="rbc"><rect width="83" height="73"/></clipPath><circle cx="-6" cy="36.5" r="32" fill="#fcd700" clip-path="url(#rbc)"/><path d="M3.3,53.1 L7.9,55.4 L13.2,52.5 L19.1,54.5 L22.4,52.5 L26.4,52.5 L29.7,56.4 L37.6,60.4 L43.6,58.4 L42.9,53.8 L38.9,51.2 L44.2,49.8 L54.1,48.5 L57.4,52.5 L64,55.8 L73.9,59.1 L82.5,61.7 L82.5,53.8 L75.9,51.2 L70.6,47.2 L68.6,40.6 L70.6,36.6 L72,36 C66,33 60,30 56,28 C50,25 44,22 38,19 L33,17 L29,17.5 C24,21 19,24 16,28 C13,32 12,37 10.5,42 C9,46 6,50 3.3,53.1 Z" fill="#e61f2f" stroke="#f8b21c" stroke-width="1.1" stroke-linejoin="round"/><path d="M70.6,36.6 C76,35 79,31 77,27 C75,24 71,24 72,21 C73,19 77,18 79,18.5" fill="none" stroke="#f8b21c" stroke-width="3.4" stroke-linecap="round"/><path d="M70.6,36.6 C76,35 79,31 77,27 C75,24 71,24 72,21 C73,19 77,18 79,18.5" fill="none" stroke="#e61f2f" stroke-width="1.8" stroke-linecap="round"/></g>
<text x="1149.6" y="1817.0" font-size="34" font-weight="bold" text-anchor="middle" fill="#3d3d3d" textLength="82.1" lengthAdjust="spacingAndGlyphs" >NOR</text>
<g transform="translate(1108.12,1821.9)"><rect width="83" height="73" fill="#ff8700"/><path d="M0,23.8 C20,14 44,6 64,6.3 C80,6.5 85,12 81,20 C72,36 50,52 30.2,65.7 C40,52 43,40 36,35.5 C29,31.5 12,31.5 0,32.5 Z" fill="#ffffff"/></g>
<text x="1494.3" y="1817.0" font-size="34" font-weight="bold" text-anchor="middle" fill="#3d3d3d" textLength="76.3" lengthAdjust="spacingAndGlyphs" >ALO</text>
<g transform="translate(1452.77,1821.9)"><rect width="83" height="73" fill="#035a50"/><path d="M0,16.3 L26.5,16.3 C29.5,16.3 30.5,21.5 33,22.2 L50,22.2 C52.5,21.5 53.5,16.3 56.5,16.3 L83,16.3" fill="none" stroke="#dffff7" stroke-width="2.3"/><rect x="2.6" y="23.4" width="77.8" height="11.2" fill="#035a50" stroke="#dffff7" stroke-width="1.5"/><text x="41.5" y="32.6" font-size="9.4" font-family="Liberation Serif, serif" text-anchor="middle" fill="#dffff7" textLength="72" lengthAdjust="spacingAndGlyphs">ASTON MARTIN</text><clipPath id="amc"><path d="M0,35.4 L83,35.4 L83,51.5 L55,60.5 Q52,61.5 50,59.5 L41.5,52 L33,59.5 Q31,61.5 28,60.5 L0,51.5 Z"/></clipPath><g clip-path="url(#amc)"><line x1="41.5" y1="66" x2="-14.0" y2="34" stroke="#dffff7" stroke-width="1.5"/><line x1="41.5" y1="66" x2="-6.0" y2="34" stroke="#dffff7" stroke-width="1.5"/><line x1="41.5" y1="66" x2="2.0" y2="34" stroke="#dffff7" stroke-width="1.5"/><line x1="41.5" y1="66" x2="9.0" y2="34" stroke="#dffff7" stroke-width="1.5"/><line x1="41.5" y1="66" x2="16.0" y2="34" stroke="#dffff7" stroke-width="1.5"/><line x1="41.5" y1="66" x2="23.0" y2="34" stroke="#dffff7" stroke-width="1.5"/><line x1="41.5" y1="66" x2="30.0" y2="34" stroke="#dffff7" stroke-width="1.5"/><line x1="41.5" y1="66" x2="36.0" y2="34" stroke="#dffff7" stroke-width="1.5"/><line x1="41.5" y1="66" x2="41.5" y2="34" stroke="#dffff7" stroke-width="1.5"/><line x1="41.5" y1="66" x2="47.0" y2="34" stroke="#dffff7" stroke-width="1.5"/><line x1="41.5" y1="66" x2="53.0" y2="34" stroke="#dffff7" stroke-width="1.5"/><line x1="41.5" y1="66" x2="60.0" y2="34" stroke="#dffff7" stroke-width="1.5"/><line x1="41.5" y1="66" x2="67.0" y2="34" stroke="#dffff7" stroke-width="1.5"/><line x1="41.5" y1="66" x2="74.0" y2="34" stroke="#dffff7" stroke-width="1.5"/><line x1="41.5" y1="66" x2="81.0" y2="34" stroke="#dffff7" stroke-width="1.5"/><line x1="41.5" y1="66" x2="89.0" y2="34" stroke="#dffff7" stroke-width="1.5"/><line x1="41.5" y1="66" x2="97.0" y2="34" stroke="#dffff7" stroke-width="1.5"/><path d="M-2,40 Q41.5,60 85,40 M-2,45.5 Q41.5,68 85,45.5" fill="none" stroke="#dffff7" stroke-width="1.5"/></g><path d="M0,51.5 L28,60.5 Q31,61.5 33,59.5 L41.5,52 L50,59.5 Q52,61.5 55,60.5 L83,51.5" fill="none" stroke="#dffff7" stroke-width="2"/></g>
<text x="1838.9" y="1817.0" font-size="34" font-weight="bold" text-anchor="middle" fill="#3d3d3d" textLength="67.2" lengthAdjust="spacingAndGlyphs" >LEC</text>
<g transform="translate(1797.42,1821.9)"><rect width="83" height="73" fill="#fe0000"/><path d="M2,5 Q41.5,-3 81,5 L80,10 C78,40 74,58 67,73 L16,73 C9,58 4,40 3,10 Z" fill="#1a1a1a"/><path d="M3.5,6.5 Q41.5,-1 79.5,6.5 L78.5,10 C76.5,40 72.5,58 65.5,73 L17.5,73 C10.5,58 6.5,40 4.5,10 Z" fill="#fff200"/><path d="M42.8,0.9 L52,4.2 L56,8.2 L55.3,12.9 L54.6,18.1 L54,22.8 L52,27.3 L50.7,30 L50,35.9 L54.6,41.2 L57.9,46 L58.6,50 L55.9,56.4 L50.7,59 L50,64.4 L47.4,67.7 L44.1,72.5 L41.5,72.5 L44.8,65.6 L44.1,61.6 L38.8,61 L30.9,61.6 L26.9,60.7 L28.2,59 L38.8,58.3 L41.5,56.4 L40.1,51.1 L38.8,47.1 L34.9,41.8 L29.6,35.3 L25.7,32.6 L21,33.3 L20.3,37.9 L23.6,41.2 L25,44.5 L23,43.8 L20.3,40.6 L19,35.3 L16.4,33.9 L15.7,32.6 L20.3,26 L22.9,20.7 L25.7,20.7 L29.6,24 L33.5,24 L38.8,20.7 L41.5,16 L41.5,12.1 L38.8,10.8 L32.2,10.2 L31.5,7.5 L34.9,6.2 L38.8,3.5 Z" fill="#231f20"/><path d="M57.9,47 C62,46 65,43 65,37 C65,32 65,28 68,24.5" fill="none" stroke="#231f20" stroke-width="2.6" stroke-linecap="round"/><path d="M27,71 Q29,67 31,69 M47,69 L57,68 M52,68 L51,73" fill="none" stroke="#231f20" stroke-width="1.6"/></g>
<text x="2183.6" y="1817.0" font-size="34" font-weight="bold" text-anchor="middle" fill="#3d3d3d" textLength="74.4" lengthAdjust="spacingAndGlyphs" >RUS</text>
<g transform="translate(2142.07,1821.9)"><rect width="83" height="73" fill="#00d2be"/><clipPath id="mc"><rect width="83" height="73"/></clipPath><g clip-path="url(#mc)"><circle cx="45.8" cy="40.5" r="45.6" fill="none" stroke="#d9dee0" stroke-width="2.6"/><circle cx="45.8" cy="40.5" r="43.6" fill="none" stroke="#2f3b40" stroke-width="1.3"/></g><path d="M49.2,0 L43,38.5 L49.2,43.2 Z" fill="#ffffff"/><path d="M49.2,0 L55.6,38.5 L49.2,43.2 Z" fill="#7d868b"/><path d="M49.2,43.2 L55.6,38.5 L82.5,62.4 Z" fill="#eef1f2"/><path d="M49.2,43.2 L49.2,50 L82.5,62.4 Z" fill="#343d42"/><path d="M49.2,43.2 L43,38.5 L10.6,64.7 Z" fill="#f4f6f7"/><path d="M49.2,43.2 L49.2,50 L10.6,64.7 Z" fill="#3a4347"/></g>
<text x="2528.2" y="1817.0" font-size="34" font-weight="bold" text-anchor="middle" fill="#3d3d3d" textLength="60.9" lengthAdjust="spacingAndGlyphs" >SAI</text>
<g transform="translate(2486.72,1821.9)"><rect width="83" height="73" fill="#fe0000"/><path d="M2,5 Q41.5,-3 81,5 L80,10 C78,40 74,58 67,73 L16,73 C9,58 4,40 3,10 Z" fill="#1a1a1a"/><path d="M3.5,6.5 Q41.5,-1 79.5,6.5 L78.5,10 C76.5,40 72.5,58 65.5,73 L17.5,73 C10.5,58 6.5,40 4.5,10 Z" fill="#fff200"/><path d="M42.8,0.9 L52,4.2 L56,8.2 L55.3,12.9 L54.6,18.1 L54,22.8 L52,27.3 L50.7,30 L50,35.9 L54.6,41.2 L57.9,46 L58.6,50 L55.9,56.4 L50.7,59 L50,64.4 L47.4,67.7 L44.1,72.5 L41.5,72.5 L44.8,65.6 L44.1,61.6 L38.8,61 L30.9,61.6 L26.9,60.7 L28.2,59 L38.8,58.3 L41.5,56.4 L40.1,51.1 L38.8,47.1 L34.9,41.8 L29.6,35.3 L25.7,32.6 L21,33.3 L20.3,37.9 L23.6,41.2 L25,44.5 L23,43.8 L20.3,40.6 L19,35.3 L16.4,33.9 L15.7,32.6 L20.3,26 L22.9,20.7 L25.7,20.7 L29.6,24 L33.5,24 L38.8,20.7 L41.5,16 L41.5,12.1 L38.8,10.8 L32.2,10.2 L31.5,7.5 L34.9,6.2 L38.8,3.5 Z" fill="#231f20"/><path d="M57.9,47 C62,46 65,43 65,37 C65,32 65,28 68,24.5" fill="none" stroke="#231f20" stroke-width="2.6" stroke-linecap="round"/><path d="M27,71 Q29,67 31,69 M47,69 L57,68 M52,68 L51,73" fill="none" stroke="#231f20" stroke-width="1.6"/></g>
<text x="2872.9" y="1817.0" font-size="34" font-weight="bold" text-anchor="middle" fill="#3d3d3d" textLength="74.6" lengthAdjust="spacingAndGlyphs" >STR</text>
<g transform="translate(2831.37,1821.9)"><rect width="83" height="73" fill="#035a50"/><path d="M0,16.3 L26.5,16.3 C29.5,16.3 30.5,21.5 33,22.2 L50,22.2 C52.5,21.5 53.5,16.3 56.5,16.3 L83,16.3" fill="none" stroke="#dffff7" stroke-width="2.3"/><rect x="2.6" y="23.4" width="77.8" height="11.2" fill="#035a50" stroke="#dffff7" stroke-width="1.5"/><text x="41.5" y="32.6" font-size="9.4" font-family="Liberation Serif, serif" text-anchor="middle" fill="#dffff7" textLength="72" lengthAdjust="spacingAndGlyphs">ASTON MARTIN</text><clipPath id="amc"><path d="M0,35.4 L83,35.4 L83,51.5 L55,60.5 Q52,61.5 50,59.5 L41.5,52 L33,59.5 Q31,61.5 28,60.5 L0,51.5 Z"/></clipPath><g clip-path="url(#amc)"><line x1="41.5" y1="66" x2="-14.0" y2="34" stroke="#dffff7" stroke-width="1.5"/><line x1="41.5" y1="66" x2="-6.0" y2="34" stroke="#dffff7" stroke-width="1.5"/><line x1="41.5" y1="66" x2="2.0" y2="34" stroke="#dffff7" stroke-width="1.5"/><line x1="41.5" y1="66" x2="9.0" y2="34" stroke="#dffff7" stroke-width="1.5"/><line x1="41.5" y1="66" x2="16.0" y2="34" stroke="#dffff7" stroke-width="1.5"/><line x1="41.5" y1="66" x2="23.0" y2="34" stroke="#dffff7" stroke-width="1.5"/><line x1="41.5" y1="66" x2="30.0" y2="34" stroke="#dffff7" stroke-width="1.5"/><line x1="41.5" y1="66" x2="36.0" y2="34" stroke="#dffff7" stroke-width="1.5"/><line x1="41.5" y1="66" x2="41.5" y2="34" stroke="#dffff7" stroke-width="1.5"/><line x1="41.5" y1="66" x2="47.0" y2="34" stroke="#dffff7" stroke-width="1.5"/><line x1="41.5" y1="66" x2="53.0" y2="34" stroke="#dffff7" stroke-width="1.5"/><line x1="41.5" y1="66" x2="60.0" y2="34" stroke="#dffff7" stroke-width="1.5"/><line x1="41.5" y1="66" x2="67.0" y2="34" stroke="#dffff7" stroke-width="1.5"/><line x1="41.5" y1="66" x2="74.0" y2="34" stroke="#dffff7" stroke-width="1.5"/><line x1="41.5" y1="66" x2="81.0" y2="34" stroke="#dffff7" stroke-width="1.5"/><line x1="41.5" y1="66" x2="89.0" y2="34" stroke="#dffff7" stroke-width="1.5"/><line x1="41.5" y1="66" x2="97.0" y2="34" stroke="#dffff7" stroke-width="1.5"/><path d="M-2,40 Q41.5,60 85,40 M-2,45.5 Q41.5,68 85,45.5" fill="none" stroke="#dffff7" stroke-width="1.5"/></g><path d="M0,51.5 L28,60.5 Q31,61.5 33,59.5 L41.5,52 L50,59.5 Q52,61.5 55,60.5 L83,51.5" fill="none" stroke="#dffff7" stroke-width="2"/></g>
<text x="3217.5" y="1817.0" font-size="34" font-weight="bold" text-anchor="middle" fill="#3d3d3d" textLength="77.5" lengthAdjust="spacingAndGlyphs" >GAS</text>
<g transform="translate(3176.02,1821.9)"><rect width="83" height="73" fill="#0f1c2d"/><rect x="0" y="43.6" width="83" height="7.6" fill="#ffffff"/><path d="M71.1,10.1 L82.3,10.1 L65.5,63 L53.9,63 L59.9,43.6 L65.8,25.4 L42.7,43.6 L32.1,51.2 L17.6,63 L3.8,63 L28.2,43.6 Z" fill="#ffffff"/><path d="M0,40.6 L15.6,29 L11.4,43.6 L0,43.6 Z" fill="#ffffff"/></g>
<text x="3562.2" y="1817.0" font-size="34" font-weight="bold" text-anchor="middle" fill="#3d3d3d" textLength="62.3" lengthAdjust="spacingAndGlyphs" >PIA</text>
<g transform="translate(3520.67,1821.9)"><rect width="83" height="73" fill="#ff8700"/><path d="M0,23.8 C20,14 44,6 64,6.3 C80,6.5 85,12 81,20 C72,36 50,52 30.2,65.7 C40,52 43,40 36,35.5 C29,31.5 12,31.5 0,32.5 Z" fill="#ffffff"/></g>
<rect x="3744.30" y="487.00" width="73.95" height="53.20" fill="#358c75"/>
<rect x="3817.65" y="487.00" width="72.64" height="53.20" fill="#6cd3bf"/>
<rect x="3889.69" y="487.00" width="70.41" height="53.20" fill="#2293d1"/>
<rect x="3744.30" y="539.40" width="215.80" height="47.80" fill="#2293d1"/>
<rect x="3744.30" y="586.40" width="63.84" height="50.30" fill="#358c75"/>
<rect x="3807.54" y="586.40" width="31.24" height="50.30" fill="#f91536"/>
<rect x="3838.18" y="586.40" width="31.57" height="50.30" fill="#f58020"/>
<rect x="3869.15" y="586.40" width="90.95" height="50.30" fill="#2293d1"/>
<rect x="3744.30" y="635.90" width="80.79" height="50.00" fill="#358c75"/>
<rect x="3824.49" y="635.90" width="39.72" height="50.00" fill="#f91536"/>
<rect x="3863.61" y="635.90" width="20.16" height="50.00" fill="#f58020"/>
<rect x="3883.17" y="635.90" width="39.72" height="50.00" fill="#6cd3bf"/>
<rect x="3922.29" y="635.90" width="37.81" height="50.00" fill="#2293d1"/>
<rect x="3744.30" y="685.10" width="56.34" height="53.60" fill="#358c75"/>
<rect x="3800.04" y="685.10" width="90.25" height="53.60" fill="#f91536"/>
<rect x="3889.69" y="685.10" width="54.39" height="53.60" fill="#f58020"/>
<rect x="3943.47" y="685.10" width="16.63" height="53.60" fill="#2293d1"/>
<rect x="3744.30" y="737.90" width="22.11" height="46.80" fill="#358c75"/>
<rect x="3765.81" y="737.90" width="59.28" height="46.80" fill="#f91536"/>
<rect x="3824.49" y="737.90" width="98.39" height="46.80" fill="#f58020"/>
<rect x="3922.29" y="737.90" width="37.81" height="46.80" fill="#6cd3bf"/>
<rect x="3744.30" y="783.90" width="16.57" height="53.60" fill="#3671c6"/>
<rect x="3760.27" y="783.90" width="86.66" height="53.60" fill="#358c75"/>
<rect x="3846.33" y="783.90" width="72.64" height="53.60" fill="#f91536"/>
<rect x="3918.37" y="783.90" width="29.29" height="53.60" fill="#f58020"/>
<rect x="3947.06" y="783.90" width="13.04" height="53.60" fill="#6cd3bf"/>
<rect x="3744.30" y="836.70" width="11.36" height="49.50" fill="#3671c6"/>
<rect x="3755.06" y="836.70" width="18.53" height="49.50" fill="#358c75"/>
<rect x="3772.99" y="836.70" width="90.25" height="49.50" fill="#f91536"/>
<rect x="3862.63" y="836.70" width="63.51" height="49.50" fill="#f58020"/>
<rect x="3925.55" y="836.70" width="9.73" height="49.50" fill="#6cd3bf"/>
<rect x="3934.67" y="836.70" width="25.43" height="49.50" fill="#2293d1"/>
<rect x="3744.30" y="885.40" width="27.00" height="48.70" fill="#3671c6"/>
<rect x="3770.70" y="885.40" width="17.55" height="48.70" fill="#358c75"/>
<rect x="3787.66" y="885.40" width="58.62" height="48.70" fill="#f91536"/>
<rect x="3845.68" y="885.40" width="66.77" height="48.70" fill="#f58020"/>
<rect x="3911.85" y="885.40" width="16.90" height="48.70" fill="#6cd3bf"/>
<rect x="3928.15" y="885.40" width="31.95" height="48.70" fill="#2293d1"/>
<rect x="3744.30" y="933.30" width="48.85" height="50.70" fill="#3671c6"/>
<rect x="3792.55" y="933.30" width="38.09" height="50.70" fill="#358c75"/>
<rect x="3830.03" y="933.30" width="94.81" height="50.70" fill="#f58020"/>
<rect x="3924.24" y="933.30" width="10.05" height="50.70" fill="#6cd3bf"/>
<rect x="3933.70" y="933.30" width="26.40" height="50.70" fill="#2293d1"/>
<rect x="3744.30" y="983.20" width="23.09" height="50.30" fill="#3671c6"/>
<rect x="3766.79" y="983.20" width="56.67" height="50.30" fill="#358c75"/>
<rect x="3822.86" y="983.20" width="83.73" height="50.30" fill="#f58020"/>
<rect x="3905.99" y="983.20" width="42.33" height="50.30" fill="#6cd3bf"/>
<rect x="3947.71" y="983.20" width="12.39" height="50.30" fill="#2293d1"/>
<rect x="3744.30" y="1032.70" width="56.34" height="49.70" fill="#3671c6"/>
<rect x="3800.04" y="1032.70" width="40.70" height="49.70" fill="#358c75"/>
<rect x="3840.14" y="1032.70" width="54.39" height="49.70" fill="#f58020"/>
<rect x="3893.93" y="1032.70" width="14.29" height="49.70" fill="#6cd3bf"/>
<rect x="3907.62" y="1032.70" width="52.48" height="49.70" fill="#2293d1"/>
<rect x="3744.30" y="1081.60" width="32.87" height="52.30" fill="#3671c6"/>
<rect x="3776.57" y="1081.60" width="62.21" height="52.30" fill="#358c75"/>
<rect x="3838.18" y="1081.60" width="41.67" height="52.30" fill="#f91536"/>
<rect x="3879.26" y="1081.60" width="21.46" height="52.30" fill="#f58020"/>
<rect x="3900.12" y="1081.60" width="51.45" height="52.30" fill="#6cd3bf"/>
<rect x="3950.97" y="1081.60" width="9.13" height="52.30" fill="#2293d1"/>
<rect x="3744.30" y="1133.10" width="30.26" height="50.40" fill="#3671c6"/>
<rect x="3773.96" y="1133.10" width="49.17" height="50.40" fill="#358c75"/>
<rect x="3822.54" y="1133.10" width="49.17" height="50.40" fill="#f91536"/>
<rect x="3871.11" y="1133.10" width="35.48" height="50.40" fill="#f58020"/>
<rect x="3905.99" y="1133.10" width="42.33" height="50.40" fill="#6cd3bf"/>
<rect x="3947.71" y="1133.10" width="12.39" height="50.40" fill="#2293d1"/>
<rect x="3744.30" y="1182.70" width="17.23" height="48.10" fill="#3671c6"/>
<rect x="3760.93" y="1182.70" width="35.81" height="48.10" fill="#358c75"/>
<rect x="3796.13" y="1182.70" width="80.47" height="48.10" fill="#f91536"/>
<rect x="3876.00" y="1182.70" width="11.03" height="48.10" fill="#f58020"/>
<rect x="3886.43" y="1182.70" width="55.36" height="48.10" fill="#6cd3bf"/>
<rect x="3941.19" y="1182.70" width="18.91" height="48.10" fill="#2293d1"/>
<rect x="3744.30" y="1230.00" width="67.28" height="50.60" fill="#3671c6"/>
<rect x="3810.98" y="1230.00" width="27.27" height="50.60" fill="#358c75"/>
<rect x="3837.65" y="1230.00" width="70.92" height="50.60" fill="#f91536"/>
<rect x="3907.97" y="1230.00" width="22.02" height="50.60" fill="#f58020"/>
<rect x="3929.39" y="1230.00" width="11.51" height="50.60" fill="#6cd3bf"/>
<rect x="3940.30" y="1230.00" width="19.80" height="50.60" fill="#2293d1"/>
<rect x="3744.30" y="1279.80" width="80.62" height="50.00" fill="#3671c6"/>
<rect x="3824.32" y="1279.80" width="43.03" height="50.00" fill="#358c75"/>
<rect x="3866.75" y="1279.80" width="43.84" height="50.00" fill="#f91536"/>
<rect x="3909.99" y="1279.80" width="34.95" height="50.00" fill="#f58020"/>
<rect x="3944.34" y="1279.80" width="15.76" height="50.00" fill="#2293d1"/>
<rect x="3744.30" y="1329.00" width="106.48" height="51.30" fill="#3671c6"/>
<rect x="3850.18" y="1329.00" width="24.04" height="51.30" fill="#358c75"/>
<rect x="3873.62" y="1329.00" width="41.01" height="51.30" fill="#f91536"/>
<rect x="3914.03" y="1329.00" width="46.07" height="51.30" fill="#f58020"/>
<rect x="3744.30" y="1379.50" width="94.76" height="52.10" fill="#3671c6"/>
<rect x="3838.46" y="1379.50" width="72.53" height="52.10" fill="#358c75"/>
<rect x="3910.39" y="1379.50" width="10.70" height="52.10" fill="#f91536"/>
<rect x="3920.50" y="1379.50" width="39.60" height="52.10" fill="#f58020"/>
<rect x="3744.30" y="1430.80" width="98.40" height="47.30" fill="#3671c6"/>
<rect x="3842.10" y="1430.80" width="24.44" height="47.30" fill="#358c75"/>
<rect x="3865.94" y="1430.80" width="72.53" height="47.30" fill="#f58020"/>
<rect x="3937.87" y="1430.80" width="22.23" height="47.30" fill="#2293d1"/>
<rect x="3744.30" y="1477.30" width="156.19" height="50.50" fill="#3671c6"/>
<rect x="3899.89" y="1477.30" width="60.21" height="50.50" fill="#f58020"/>
<rect x="3744.30" y="1527.00" width="215.80" height="102.50" fill="#3671c6"/>
<rect x="3744.30" y="1675.60" width="215.80" height="53.20" fill="#358c75"/>
<rect x="0" y="1939.5" width="4000" height="60.5" fill="#265c7e"/>
<text x="1999.5" y="1986.7" font-size="47" font-weight="normal" text-anchor="middle" fill="#050505" textLength="439" lengthAdjust="spacingAndGlyphs" >www.f1pace.com</text>
<g transform="translate(3768.5,1942.9)" fill="none" stroke="#050505" stroke-width="2.6"><ellipse cx="15" cy="3.5" rx="10" ry="2.5"/><path d="M3,12 Q2,7 6,6.5 L24,6.5 Q28,7 27,12 Q27,14.5 24,14.5 L6,14.5 Q3,14.5 3,12 Z"/><path d="M5,18 L7.5,40 Q8.5,44 12,44 L18,44 Q21.5,44 22.5,40 L25,18"/></g><path d="M3776.6,1961.7 L3777.5,1981 Q3778.5,1985 3781.5,1985 L3787.5,1985 Q3790.5,1985 3791.3,1981 L3793,1958.5 Q3786,1962 3776.6,1961.7 Z" fill="#050505"/>
<text x="3802.0" y="1987.0" font-size="48" font-weight="normal" text-anchor="start" fill="#050505" textLength="184.5" lengthAdjust="spacingAndGlyphs" >F1pace</text>
</svg></body></html>
